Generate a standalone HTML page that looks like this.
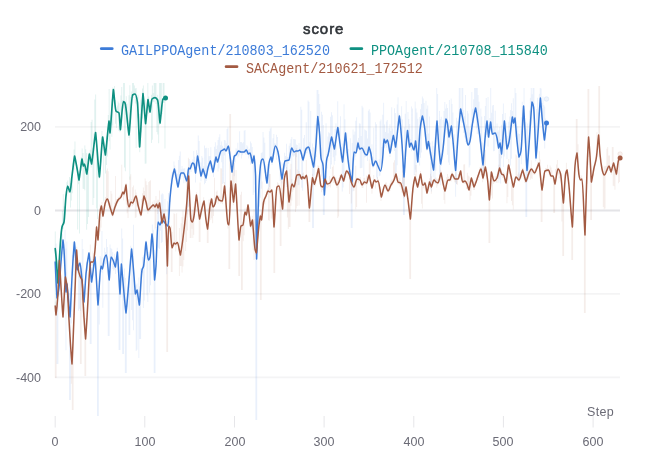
<!DOCTYPE html>
<html><head><meta charset="utf-8"><title>score</title>
<style>
html,body{margin:0;padding:0;background:#fff;}
body{width:646px;height:460px;position:relative;overflow:hidden;font-family:"Liberation Sans",sans-serif;}
.t{position:absolute;white-space:nowrap;line-height:1;will-change:transform;}
.title{font-weight:normal;font-size:15px;color:#2f3338;letter-spacing:0.93px;-webkit-text-stroke:0.6px #2f3338;}
.lg{font-family:"Liberation Mono",monospace;font-size:13.4px;transform-origin:0 0;transform:scaleY(1.136);}
.ax{font-size:12.5px;color:#6b6b76;}
.yl{text-align:right;width:40px;left:1.2px;}
.xl{text-align:center;width:60px;}
</style></head><body>
<svg width="646" height="460" viewBox="0 0 646 460" style="position:absolute;left:0;top:0">
<line x1="55" x2="620" y1="126.9" y2="126.9" stroke="#f4f4f5" stroke-width="1.8"/>
<line x1="55" x2="620" y1="210.5" y2="210.5" stroke="#e4e4e7" stroke-width="2"/>
<line x1="55" x2="620" y1="293.9" y2="293.9" stroke="#f4f4f5" stroke-width="1.8"/>
<line x1="55" x2="620" y1="377.4" y2="377.4" stroke="#f4f4f5" stroke-width="1.8"/>
<line x1="55.2" x2="55.2" y1="416" y2="427.5" stroke="#e6e6e9" stroke-width="1"/>
<line x1="144.8" x2="144.8" y1="416" y2="427.5" stroke="#e6e6e9" stroke-width="1"/>
<line x1="234.5" x2="234.5" y1="416" y2="427.5" stroke="#e6e6e9" stroke-width="1"/>
<line x1="324.1" x2="324.1" y1="416" y2="427.5" stroke="#e6e6e9" stroke-width="1"/>
<line x1="413.8" x2="413.8" y1="416" y2="427.5" stroke="#e6e6e9" stroke-width="1"/>
<line x1="503.4" x2="503.4" y1="416" y2="427.5" stroke="#e6e6e9" stroke-width="1"/>
<line x1="593.1" x2="593.1" y1="416" y2="427.5" stroke="#e6e6e9" stroke-width="1"/>
<path d="M54.8,259.6 L55.7,259.6 L55.6,243.4 L56.6,243.4 L56.5,261.4 L57.5,261.4 L57.4,292.2 L58.4,292.2 L58.3,285.8 L59.2,285.8 L59.2,271.7 L60.1,271.7 L60.1,263.5 L61.0,263.5 L61.0,251.2 L61.9,251.2 L61.9,233.6 L62.8,233.6 L62.8,241.8 L63.7,241.8 L63.7,253.2 L64.6,253.2 L64.6,229.7 L65.5,229.7 L65.5,248.6 L66.4,248.6 L66.4,241.4 L67.3,241.4 L67.3,290.7 L68.2,290.7 L68.2,292.7 L69.1,292.7 L69.1,293.5 L70.0,293.5 L70.0,288.1 L70.9,288.1 L70.9,284.0 L71.8,284.0 L71.8,255.1 L72.7,255.1 L72.7,241.9 L73.6,241.9 L73.6,240.7 L74.5,240.7 L74.5,247.4 L75.4,247.4 L75.4,251.9 L76.3,251.9 L76.3,266.9 L77.2,266.9 L77.2,263.6 L78.1,263.6 L78.1,262.9 L79.0,262.9 L79.0,259.9 L79.9,259.9 L79.9,261.4 L80.8,261.4 L80.8,272.7 L81.7,272.7 L81.7,239.0 L82.6,239.0 L82.6,248.9 L83.5,248.9 L83.5,293.9 L84.4,293.9 L84.4,286.3 L85.3,286.3 L85.3,271.9 L86.2,271.9 L86.2,262.0 L87.1,262.0 L87.1,260.4 L88.0,260.4 L88.0,252.2 L88.9,252.2 L88.9,256.4 L89.8,256.4 L89.8,261.2 L90.7,261.2 L90.7,267.3 L91.6,267.3 L91.6,272.9 L92.5,272.9 L92.5,259.2 L93.4,259.2 L93.4,257.1 L94.3,257.1 L94.3,256.9 L95.2,256.9 L95.2,265.8 L96.1,265.8 L96.1,276.0 L97.0,276.0 L97.0,288.0 L97.9,288.0 L97.9,294.8 L98.8,294.8 L98.8,284.3 L99.7,284.3 L99.7,256.0 L100.6,256.0 L100.6,257.7 L101.5,257.7 L101.5,230.9 L102.4,230.9 L102.4,262.8 L103.3,262.8 L103.3,257.4 L104.2,257.4 L104.2,247.8 L105.1,247.8 L105.1,251.9 L106.0,251.9 L106.0,239.1 L106.9,239.1 L106.9,247.1 L107.8,247.1 L107.8,270.2 L108.7,270.2 L108.7,277.4 L109.6,277.4 L109.6,244.6 L110.5,244.6 L110.5,248.1 L111.4,248.1 L111.4,249.1 L112.3,249.1 L112.3,252.2 L113.2,252.2 L113.2,261.2 L114.1,261.2 L114.1,253.7 L115.0,253.7 L115.0,258.9 L115.9,258.9 L115.9,256.0 L116.8,256.0 L116.8,247.7 L117.7,247.7 L117.7,263.8 L118.6,263.8 L118.6,274.9 L119.5,274.9 L119.5,292.1 L120.4,292.1 L120.4,266.7 L121.3,266.7 L121.3,228.4 L122.2,228.4 L122.2,238.5 L123.1,238.5 L123.1,277.0 L124.0,277.0 L124.0,268.6 L124.9,268.6 L124.9,277.9 L125.8,277.9 L125.8,307.8 L126.7,307.8 L126.7,293.3 L127.6,293.3 L127.6,287.0 L128.5,287.0 L128.5,275.9 L129.4,275.9 L129.4,264.5 L130.3,264.5 L130.3,245.7 L131.2,245.7 L131.2,247.3 L132.1,247.3 L132.1,257.2 L133.0,257.2 L133.0,224.8 L133.9,224.8 L133.9,279.7 L134.8,279.7 L134.8,286.5 L135.7,286.5 L135.7,284.8 L136.6,284.8 L136.6,283.5 L137.5,283.5 L137.5,290.0 L138.4,290.0 L138.4,277.6 L139.3,277.6 L139.3,296.0 L140.2,296.0 L140.2,268.3 L141.1,268.3 L141.1,272.0 L142.0,272.0 L142.0,257.1 L142.9,257.1 L142.9,254.8 L143.8,254.8 L143.8,256.3 L144.7,256.3 L144.7,243.3 L145.6,243.3 L145.6,240.2 L146.5,240.2 L146.5,248.5 L147.4,248.5 L147.4,252.0 L148.3,252.0 L148.3,251.8 L149.2,251.8 L149.2,255.9 L150.1,255.9 L150.1,239.5 L151.0,239.5 L151.0,233.4 L151.9,233.4 L151.9,224.6 L152.8,224.6 L152.8,229.8 L153.7,229.8 L153.7,250.1 L154.6,250.1 L154.6,272.6 L155.5,272.6 L155.5,264.5 L156.4,264.5 L156.4,244.7 L157.3,244.7 L157.3,208.7 L158.2,208.7 L158.2,205.3 L159.1,205.3 L159.1,222.1 L160.0,222.1 L160.0,213.7 L160.9,213.7 L160.9,194.5 L161.8,194.5 L161.8,193.3 L162.7,193.3 L162.7,194.2 L163.6,194.2 L163.6,216.0 L164.5,216.0 L164.5,199.1 L165.4,199.1 L165.4,218.7 L166.3,218.7 L166.3,216.6 L167.2,216.6 L167.2,201.2 L168.1,201.2 L168.1,193.1 L169.0,193.1 L169.0,200.3 L169.9,200.3 L169.9,193.5 L170.8,193.5 L170.8,174.8 L171.7,174.8 L171.7,172.3 L172.6,172.3 L172.6,171.1 L173.5,171.1 L173.5,161.5 L174.4,161.5 L174.4,165.5 L175.3,165.5 L175.3,173.6 L176.2,173.6 L176.2,170.2 L177.1,170.2 L177.1,173.8 L178.0,173.8 L178.0,160.0 L178.9,160.0 L178.9,155.8 L179.8,155.8 L179.8,151.6 L180.7,151.6 L180.7,169.3 L181.6,169.3 L181.6,166.1 L182.5,166.1 L182.5,168.8 L183.4,168.8 L183.4,168.4 L184.3,168.4 L184.3,168.3 L185.2,168.3 L185.2,176.4 L186.1,176.4 L186.1,176.9 L187.0,176.9 L187.0,172.8 L187.9,172.8 L187.9,167.2 L188.8,167.2 L188.8,159.1 L189.7,159.1 L189.7,161.3 L190.6,161.3 L190.6,164.8 L191.5,164.8 L191.5,161.7 L192.4,161.7 L192.4,159.3 L193.3,159.3 L193.3,151.0 L194.2,151.0 L194.2,156.7 L195.1,156.7 L195.1,161.7 L196.0,161.7 L196.0,150.3 L196.9,150.3 L196.9,153.2 L197.8,153.2 L197.8,135.6 L198.7,135.6 L198.7,140.9 L199.6,140.9 L199.6,169.3 L200.5,169.3 L200.5,162.5 L201.4,162.5 L201.4,155.9 L202.3,155.9 L202.3,157.8 L203.2,157.8 L203.2,166.3 L204.1,166.3 L204.1,145.6 L205.0,145.6 L205.0,148.3 L205.9,148.3 L205.9,147.8 L206.8,147.8 L206.8,165.6 L207.7,165.6 L207.7,148.0 L208.6,148.0 L208.6,156.2 L209.5,156.2 L209.5,156.1 L210.4,156.1 L210.4,147.2 L211.3,147.2 L211.3,163.5 L212.2,163.5 L212.2,164.4 L213.1,164.4 L213.1,159.7 L214.0,159.7 L214.0,146.8 L214.9,146.8 L214.9,142.3 L215.8,142.3 L215.8,148.9 L216.7,148.9 L216.7,145.6 L217.6,145.6 L217.6,140.1 L218.5,140.1 L218.5,137.2 L219.4,137.2 L219.4,134.2 L220.3,134.2 L220.3,145.2 L221.2,145.2 L221.2,141.5 L222.1,141.5 L222.1,145.7 L223.0,145.7 L223.0,147.8 L223.9,147.8 L223.9,140.1 L224.8,140.1 L224.8,140.4 L225.7,140.4 L225.7,143.3 L226.6,143.3 L226.6,129.1 L227.5,129.1 L227.5,127.3 L228.4,127.3 L228.4,147.7 L229.3,147.7 L229.3,153.4 L230.2,153.4 L230.2,157.1 L231.1,157.1 L231.1,167.7 L232.0,167.7 L232.0,167.5 L232.9,167.5 L232.9,156.3 L233.8,156.3 L233.8,154.8 L234.7,154.8 L234.7,152.8 L235.6,152.8 L235.6,148.2 L236.5,148.2 L236.5,149.4 L237.4,149.4 L237.4,142.8 L238.3,142.8 L238.3,149.7 L239.2,149.7 L239.2,131.3 L240.1,131.3 L240.1,141.9 L241.0,141.9 L241.0,142.0 L241.9,142.0 L241.9,143.3 L242.8,143.3 L242.8,142.2 L243.7,142.2 L243.7,130.8 L244.6,130.8 L244.6,130.0 L245.5,130.0 L245.5,149.1 L246.4,149.1 L246.4,145.2 L247.3,145.2 L247.3,146.5 L248.2,146.5 L248.2,149.5 L249.1,149.5 L249.1,148.7 L250.0,148.7 L250.0,141.4 L250.9,141.4 L250.9,143.3 L251.8,143.3 L251.8,147.1 L252.7,147.1 L252.7,155.5 L253.6,155.5 L253.6,154.0 L254.5,154.0 L254.5,159.3 L255.4,159.3 L255.4,193.0 L256.3,193.0 L256.3,247.4 L257.2,247.4 L257.2,218.4 L258.1,218.4 L258.1,188.7 L259.0,188.7 L259.0,179.5 L259.9,179.5 L259.9,161.9 L260.8,161.9 L260.8,152.9 L261.7,152.9 L261.7,152.2 L262.6,152.2 L262.6,132.0 L263.5,132.0 L263.5,137.4 L264.4,137.4 L264.4,142.8 L265.3,142.8 L265.3,173.7 L266.2,173.7 L266.2,174.9 L267.1,174.9 L267.1,164.1 L268.0,164.1 L268.0,167.0 L268.9,167.0 L268.9,131.2 L269.8,131.2 L269.8,128.5 L270.7,128.5 L270.7,127.4 L271.6,127.4 L271.6,159.7 L272.5,159.7 L272.5,138.2 L273.4,138.2 L273.4,133.9 L274.3,133.9 L274.3,143.3 L275.2,143.3 L275.2,143.7 L276.1,143.7 L276.1,134.8 L277.0,134.8 L277.0,136.9 L277.9,136.9 L277.9,150.7 L278.8,150.7 L278.8,155.9 L279.7,155.9 L279.7,161.6 L280.6,161.6 L280.6,162.2 L281.5,162.2 L281.5,168.7 L282.4,168.7 L282.4,163.4 L283.3,163.4 L283.3,164.3 L284.2,164.3 L284.2,152.8 L285.1,152.8 L285.1,156.1 L286.0,156.1 L286.0,143.7 L286.9,143.7 L286.9,156.7 L287.8,156.7 L287.8,157.1 L288.7,157.1 L288.7,145.7 L289.6,145.7 L289.6,143.3 L290.5,143.3 L290.5,139.2 L291.4,139.2 L291.4,136.9 L292.3,136.9 L292.3,147.3 L293.2,147.3 L293.2,139.0 L294.1,139.0 L294.1,139.2 L295.0,139.2 L295.0,139.5 L295.9,139.5 L295.9,144.5 L296.8,144.5 L296.8,144.9 L297.7,144.9 L297.7,149.8 L298.6,149.8 L298.6,143.1 L299.5,143.1 L299.5,147.5 L300.4,147.5 L300.4,106.7 L301.3,106.7 L301.3,109.7 L302.2,109.7 L302.2,152.7 L303.1,152.7 L303.1,138.2 L304.0,138.2 L304.0,134.9 L304.9,134.9 L304.9,146.7 L305.8,146.7 L305.8,122.3 L306.7,122.3 L306.7,147.1 L307.6,147.1 L307.6,100.6 L308.5,100.6 L308.5,101.7 L309.4,101.7 L309.4,142.2 L310.3,142.2 L310.3,111.1 L311.2,111.1 L311.2,156.3 L312.1,156.3 L312.1,143.5 L313.0,143.5 L313.0,147.3 L313.9,147.3 L313.9,154.6 L314.8,154.6 L314.8,124.4 L315.7,124.4 L315.7,138.3 L316.6,138.3 L316.6,90.0 L317.5,90.0 L317.5,90.0 L318.4,90.0 L318.4,93.9 L319.3,93.9 L319.3,104.1 L320.2,104.1 L320.2,148.3 L321.1,148.3 L321.1,111.7 L322.0,111.7 L322.0,114.8 L322.9,114.8 L322.9,125.1 L323.8,125.1 L323.8,188.4 L324.7,188.4 L324.7,169.6 L325.6,169.6 L325.6,123.3 L326.5,123.3 L326.5,154.3 L327.4,154.3 L327.4,136.5 L328.3,136.5 L328.3,132.2 L329.2,132.2 L329.2,133.3 L330.1,133.3 L330.1,116.8 L331.0,116.8 L331.0,112.3 L331.9,112.3 L331.9,115.2 L332.8,115.2 L332.8,136.8 L333.7,136.8 L333.7,141.7 L334.6,141.7 L334.6,128.9 L335.5,128.9 L335.5,123.2 L336.4,123.2 L336.4,132.1 L337.3,132.1 L337.3,101.3 L338.2,101.3 L338.2,127.8 L339.1,127.8 L339.1,128.0 L340.0,128.0 L340.0,116.3 L340.9,116.3 L340.9,146.8 L341.8,146.8 L341.8,143.5 L342.7,143.5 L342.7,152.8 L343.6,152.8 L343.6,104.3 L344.5,104.3 L344.5,119.2 L345.4,119.2 L345.4,134.0 L346.3,134.0 L346.3,132.5 L347.2,132.5 L347.2,141.6 L348.1,141.6 L348.1,148.9 L349.0,148.9 L349.0,160.0 L349.9,160.0 L349.9,138.3 L350.8,138.3 L350.8,175.4 L351.7,175.4 L351.7,143.0 L352.6,143.0 L352.6,129.5 L353.5,129.5 L353.5,134.8 L354.4,134.8 L354.4,131.5 L355.3,131.5 L355.3,120.7 L356.2,120.7 L356.2,117.3 L357.1,117.3 L357.1,140.8 L358.0,140.8 L358.0,138.1 L358.9,138.1 L358.9,123.3 L359.8,123.3 L359.8,123.8 L360.7,123.8 L360.7,136.0 L361.6,136.0 L361.6,105.8 L362.5,105.8 L362.5,107.6 L363.4,107.6 L363.4,145.7 L364.3,145.7 L364.3,129.5 L365.2,129.5 L365.2,130.3 L366.1,130.3 L366.1,130.7 L367.0,130.7 L367.0,138.5 L367.9,138.5 L367.9,110.7 L368.8,110.7 L368.8,109.3 L369.7,109.3 L369.7,112.5 L370.6,112.5 L370.6,151.4 L371.5,151.4 L371.5,144.2 L372.4,144.2 L372.4,157.0 L373.3,157.0 L373.3,127.7 L374.2,127.7 L374.2,159.4 L375.1,159.4 L375.1,122.3 L376.0,122.3 L376.0,124.2 L376.9,124.2 L376.9,160.2 L377.8,160.2 L377.8,165.2 L378.7,165.2 L378.7,159.2 L379.6,159.2 L379.6,121.3 L380.5,121.3 L380.5,119.5 L381.4,119.5 L381.4,147.1 L382.3,147.1 L382.3,114.7 L383.2,114.7 L383.2,102.8 L384.1,102.8 L384.1,124.4 L385.0,124.4 L385.0,131.9 L385.9,131.9 L385.9,121.5 L386.8,121.5 L386.8,120.0 L387.7,120.0 L387.7,133.2 L388.6,133.2 L388.6,127.9 L389.5,127.9 L389.5,124.2 L390.4,124.2 L390.4,131.0 L391.3,131.0 L391.3,107.3 L392.2,107.3 L392.2,128.6 L393.1,128.6 L393.1,133.7 L394.0,133.7 L394.0,108.2 L394.9,108.2 L394.9,112.9 L395.8,112.9 L395.8,139.8 L396.7,139.8 L396.7,104.5 L397.6,104.5 L397.6,97.2 L398.5,97.2 L398.5,113.4 L399.4,113.4 L399.4,115.3 L400.3,115.3 L400.3,118.7 L401.2,118.7 L401.2,106.2 L402.1,106.2 L402.1,119.4 L403.0,119.4 L403.0,165.8 L403.9,165.8 L403.9,127.3 L404.8,127.3 L404.8,113.8 L405.7,113.8 L405.7,101.1 L406.6,101.1 L406.6,131.7 L407.5,131.7 L407.5,112.1 L408.4,112.1 L408.4,119.1 L409.3,119.1 L409.3,124.1 L410.2,124.1 L410.2,139.1 L411.1,139.1 L411.1,106.4 L412.0,106.4 L412.0,108.5 L412.9,108.5 L412.9,144.9 L413.8,144.9 L413.8,139.9 L414.7,139.9 L414.7,101.6 L415.6,101.6 L415.6,108.6 L416.5,108.6 L416.5,112.6 L417.4,112.6 L417.4,118.8 L418.3,118.8 L418.3,139.9 L419.2,139.9 L419.2,117.1 L420.1,117.1 L420.1,109.3 L421.0,109.3 L421.0,104.0 L421.9,104.0 L421.9,96.6 L422.8,96.6 L422.8,98.5 L423.7,98.5 L423.7,103.0 L424.6,103.0 L424.6,127.9 L425.5,127.9 L425.5,100.8 L426.4,100.8 L426.4,108.8 L427.3,108.8 L427.3,105.4 L428.2,105.4 L428.2,133.6 L429.1,133.6 L429.1,116.5 L430.0,116.5 L430.0,142.7 L430.9,142.7 L430.9,151.4 L431.8,151.4 L431.8,141.3 L432.7,141.3 L432.7,146.1 L433.6,146.1 L433.6,158.5 L434.5,158.5 L434.5,137.6 L435.4,137.6 L435.4,124.5 L436.3,124.5 L436.3,88.0 L437.2,88.0 L437.2,94.1 L438.1,94.1 L438.1,133.9 L439.0,133.9 L439.0,110.9 L439.9,110.9 L439.9,119.3 L440.8,119.3 L440.8,116.8 L441.7,116.8 L441.7,149.7 L442.6,149.7 L442.6,119.9 L443.5,119.9 L443.5,110.9 L444.4,110.9 L444.4,101.9 L445.3,101.9 L445.3,108.6 L446.2,108.6 L446.2,104.3 L447.1,104.3 L447.1,108.1 L448.0,108.1 L448.0,130.0 L448.9,130.0 L448.9,99.9 L449.8,99.9 L449.8,129.3 L450.7,129.3 L450.7,98.5 L451.6,98.5 L451.6,104.1 L452.5,104.1 L452.5,112.5 L453.4,112.5 L453.4,150.1 L454.3,150.1 L454.3,134.2 L455.2,134.2 L455.2,149.9 L456.1,149.9 L456.1,117.8 L457.0,117.8 L457.0,121.3 L457.9,121.3 L457.9,131.4 L458.8,131.4 L458.8,88.0 L459.7,88.0 L459.7,88.0 L460.6,88.0 L460.6,107.8 L461.5,107.8 L461.5,88.0 L462.4,88.0 L462.4,88.0 L463.3,88.0 L463.3,110.3 L464.2,110.3 L464.2,116.2 L465.1,116.2 L465.1,95.1 L466.0,95.1 L466.0,124.4 L466.9,124.4 L466.9,111.1 L467.8,111.1 L467.8,113.5 L468.7,113.5 L468.7,127.6 L469.6,127.6 L469.6,132.8 L470.5,132.8 L470.5,124.5 L471.4,124.5 L471.4,92.0 L472.3,92.0 L472.3,108.8 L473.2,108.8 L473.2,99.3 L474.1,99.3 L474.1,88.0 L475.0,88.0 L475.0,88.0 L475.9,88.0 L475.9,88.0 L476.8,88.0 L476.8,88.0 L477.7,88.0 L477.7,94.9 L478.6,94.9 L478.6,101.7 L479.5,101.7 L479.5,135.4 L480.4,135.4 L480.4,108.4 L481.3,108.4 L481.3,116.5 L482.2,116.5 L482.2,142.5 L483.1,142.5 L483.1,156.3 L484.0,156.3 L484.0,116.1 L484.9,116.1 L484.9,106.0 L485.8,106.0 L485.8,97.9 L486.7,97.9 L486.7,121.7 L487.6,121.7 L487.6,97.0 L488.5,97.0 L488.5,125.6 L489.4,125.6 L489.4,118.1 L490.3,118.1 L490.3,88.0 L491.2,88.0 L491.2,112.7 L492.1,112.7 L492.1,105.4 L493.0,105.4 L493.0,105.1 L493.9,105.1 L493.9,127.5 L494.8,127.5 L494.8,110.7 L495.7,110.7 L495.7,132.1 L496.6,132.1 L496.6,123.6 L497.5,123.6 L497.5,131.7 L498.4,131.7 L498.4,130.3 L499.3,130.3 L499.3,127.1 L500.2,127.1 L500.2,139.1 L501.1,139.1 L501.1,124.7 L502.0,124.7 L502.0,114.1 L502.9,114.1 L502.9,103.5 L503.8,103.5 L503.8,120.0 L504.7,120.0 L504.7,113.0 L505.6,113.0 L505.6,122.7 L506.5,122.7 L506.5,141.4 L507.4,141.4 L507.4,136.0 L508.3,136.0 L508.3,121.7 L509.2,121.7 L509.2,116.5 L510.1,116.5 L510.1,109.9 L511.0,109.9 L511.0,103.3 L511.9,103.3 L511.9,111.0 L512.8,111.0 L512.8,98.2 L513.7,98.2 L513.7,116.5 L514.6,116.5 L514.6,88.0 L515.5,88.0 L515.5,93.0 L516.4,93.0 L516.4,130.8 L517.3,130.8 L517.3,126.2 L518.2,126.2 L518.2,133.4 L519.1,133.4 L519.1,134.0 L520.0,134.0 L520.0,147.8 L520.9,147.8 L520.9,117.3 L521.8,117.3 L521.8,101.7 L522.7,101.7 L522.7,110.1 L523.6,110.1 L523.6,88.0 L524.5,88.0 L524.5,128.0 L525.4,128.0 L525.4,121.9 L526.3,121.9 L526.3,128.4 L527.2,128.4 L527.2,123.4 L528.1,123.4 L528.1,145.3 L529.0,145.3 L529.0,110.6 L529.9,110.6 L529.9,97.7 L530.8,97.7 L530.8,88.0 L531.7,88.0 L531.7,94.2 L532.6,94.2 L532.6,88.0 L533.5,88.0 L533.5,88.0 L534.4,88.0 L534.4,122.9 L535.3,122.9 L535.3,152.6 L536.2,152.6 L536.2,109.1 L537.1,109.1 L537.1,97.8 L538.0,97.8 L538.0,112.4 L538.9,112.4 L538.9,93.8 L539.8,93.8 L539.8,88.0 L540.7,88.0 L540.7,88.4 L541.6,88.4 L541.6,103.0 L542.5,103.0 L542.5,96.5 L543.4,96.5 L543.4,105.1 L544.3,105.1 L544.3,106.4 L545.2,106.4 L545.2,118.5 L546.1,118.5 L546.1,141.0 L545.2,141.0 L545.2,148.6 L544.3,148.6 L544.3,136.5 L543.4,136.5 L543.4,128.4 L542.5,128.4 L542.5,119.1 L541.6,119.1 L541.6,117.4 L540.7,117.4 L540.7,100.4 L539.8,100.4 L539.8,114.7 L538.9,114.7 L538.9,128.7 L538.0,128.7 L538.0,140.8 L537.1,140.8 L537.1,159.2 L536.2,159.2 L536.2,161.3 L535.3,161.3 L535.3,139.5 L534.4,139.5 L534.4,118.7 L533.5,118.7 L533.5,108.8 L532.6,108.8 L532.6,104.0 L531.7,104.0 L531.7,125.9 L530.8,125.9 L530.8,131.3 L529.9,131.3 L529.9,142.7 L529.0,142.7 L529.0,170.0 L528.1,170.0 L528.1,181.5 L527.2,181.5 L527.2,217.0 L526.3,217.0 L526.3,217.0 L525.4,217.0 L525.4,143.3 L524.5,143.3 L524.5,127.2 L523.6,127.2 L523.6,125.2 L522.7,125.2 L522.7,135.3 L521.8,135.3 L521.8,164.2 L520.9,164.2 L520.9,155.8 L520.0,155.8 L520.0,181.2 L519.1,181.2 L519.1,180.6 L518.2,180.6 L518.2,152.4 L517.3,152.4 L517.3,142.5 L516.4,142.5 L516.4,137.1 L515.5,137.1 L515.5,123.0 L514.6,123.0 L514.6,126.0 L513.7,126.0 L513.7,126.3 L512.8,126.3 L512.8,118.1 L511.9,118.1 L511.9,158.8 L511.0,158.8 L511.0,165.4 L510.1,165.4 L510.1,140.2 L509.2,140.2 L509.2,147.5 L508.3,147.5 L508.3,148.2 L507.4,148.2 L507.4,159.0 L506.5,159.0 L506.5,143.9 L505.6,143.9 L505.6,131.8 L504.7,131.8 L504.7,156.4 L503.8,156.4 L503.8,167.0 L502.9,167.0 L502.9,145.1 L502.0,145.1 L502.0,158.3 L501.1,158.3 L501.1,183.6 L500.2,183.6 L500.2,179.5 L499.3,179.5 L499.3,182.7 L498.4,182.7 L498.4,145.9 L497.5,145.9 L497.5,141.4 L496.6,141.4 L496.6,144.3 L495.7,144.3 L495.7,134.8 L494.8,134.8 L494.8,150.9 L493.9,150.9 L493.9,151.3 L493.0,151.3 L493.0,134.9 L492.1,134.9 L492.1,135.1 L491.2,135.1 L491.2,126.7 L490.3,126.7 L490.3,130.1 L489.4,130.1 L489.4,138.2 L488.5,138.2 L488.5,146.6 L487.6,146.6 L487.6,137.6 L486.7,137.6 L486.7,135.0 L485.8,135.0 L485.8,137.4 L484.9,137.4 L484.9,149.0 L484.0,149.0 L484.0,171.3 L483.1,171.3 L483.1,176.4 L482.2,176.4 L482.2,168.3 L481.3,168.3 L481.3,149.3 L480.4,149.3 L480.4,142.3 L479.5,142.3 L479.5,133.9 L478.6,133.9 L478.6,127.3 L477.7,127.3 L477.7,134.1 L476.8,134.1 L476.8,128.4 L475.9,128.4 L475.9,110.0 L475.0,110.0 L475.0,114.1 L474.1,114.1 L474.1,122.7 L473.2,122.7 L473.2,127.0 L472.3,127.0 L472.3,136.3 L471.4,136.3 L471.4,135.0 L470.5,135.0 L470.5,165.3 L469.6,165.3 L469.6,167.6 L468.7,167.6 L468.7,145.3 L467.8,145.3 L467.8,144.3 L466.9,144.3 L466.9,143.5 L466.0,143.5 L466.0,142.0 L465.1,142.0 L465.1,137.5 L464.2,137.5 L464.2,133.0 L463.3,133.0 L463.3,120.8 L462.4,120.8 L462.4,122.4 L461.5,122.4 L461.5,115.2 L460.6,115.2 L460.6,116.2 L459.7,116.2 L459.7,127.5 L458.8,127.5 L458.8,137.9 L457.9,137.9 L457.9,146.8 L457.0,146.8 L457.0,184.1 L456.1,184.1 L456.1,196.7 L455.2,196.7 L455.2,166.3 L454.3,166.3 L454.3,159.4 L453.4,159.4 L453.4,144.0 L452.5,144.0 L452.5,137.1 L451.6,137.1 L451.6,133.1 L450.7,133.1 L450.7,139.1 L449.8,139.1 L449.8,165.1 L448.9,165.1 L448.9,162.6 L448.0,162.6 L448.0,154.7 L447.1,154.7 L447.1,129.9 L446.2,129.9 L446.2,126.9 L445.3,126.9 L445.3,131.2 L444.4,131.2 L444.4,144.4 L443.5,144.4 L443.5,156.6 L442.6,156.6 L442.6,155.1 L441.7,155.1 L441.7,166.0 L440.8,166.0 L440.8,185.2 L439.9,185.2 L439.9,176.8 L439.0,176.8 L439.0,144.6 L438.1,144.6 L438.1,134.5 L437.2,134.5 L437.2,126.2 L436.3,126.2 L436.3,170.4 L435.4,170.4 L435.4,183.4 L434.5,183.4 L434.5,167.9 L433.6,167.9 L433.6,177.4 L432.7,177.4 L432.7,167.9 L431.8,167.9 L431.8,191.5 L430.9,191.5 L430.9,186.6 L430.0,186.6 L430.0,155.4 L429.1,155.4 L429.1,149.0 L428.2,149.0 L428.2,148.2 L427.3,148.2 L427.3,150.9 L426.4,150.9 L426.4,143.0 L425.5,143.0 L425.5,136.4 L424.6,136.4 L424.6,128.6 L423.7,128.6 L423.7,123.6 L422.8,123.6 L422.8,118.3 L421.9,118.3 L421.9,152.4 L421.0,152.4 L421.0,157.7 L420.1,157.7 L420.1,165.5 L419.2,165.5 L419.2,150.3 L418.3,150.3 L418.3,163.1 L417.4,163.1 L417.4,155.6 L416.5,155.6 L416.5,172.3 L415.6,172.3 L415.6,169.8 L414.7,169.8 L414.7,174.9 L413.8,174.9 L413.8,150.1 L412.9,150.1 L412.9,150.2 L412.0,150.2 L412.0,151.3 L411.1,151.3 L411.1,144.7 L410.2,144.7 L410.2,148.1 L409.3,148.1 L409.3,144.5 L408.4,144.5 L408.4,137.5 L407.5,137.5 L407.5,141.6 L406.6,141.6 L406.6,145.7 L405.7,145.7 L405.7,168.3 L404.8,168.3 L404.8,215.0 L403.9,215.0 L403.9,215.0 L403.0,215.0 L403.0,183.7 L402.1,183.7 L402.1,144.3 L401.2,144.3 L401.2,133.1 L400.3,133.1 L400.3,124.3 L399.4,124.3 L399.4,123.3 L398.5,123.3 L398.5,130.1 L397.6,130.1 L397.6,165.2 L396.7,165.2 L396.7,172.5 L395.8,172.5 L395.8,177.2 L394.9,177.2 L394.9,150.9 L394.0,150.9 L394.0,138.3 L393.1,138.3 L393.1,141.9 L392.2,141.9 L392.2,148.1 L391.3,148.1 L391.3,151.6 L390.4,151.6 L390.4,156.9 L389.5,156.9 L389.5,151.9 L388.6,151.9 L388.6,147.8 L387.7,147.8 L387.7,141.6 L386.8,141.6 L386.8,147.8 L385.9,147.8 L385.9,145.7 L385.0,145.7 L385.0,147.8 L384.1,147.8 L384.1,147.0 L383.2,147.0 L383.2,163.1 L382.3,163.1 L382.3,164.2 L381.4,164.2 L381.4,170.0 L380.5,170.0 L380.5,175.5 L379.6,175.5 L379.6,176.2 L378.7,176.2 L378.7,168.1 L377.8,168.1 L377.8,179.4 L376.9,179.4 L376.9,177.5 L376.0,177.5 L376.0,161.8 L375.1,161.8 L375.1,165.9 L374.2,165.9 L374.2,167.5 L373.3,167.5 L373.3,168.2 L372.4,168.2 L372.4,164.4 L371.5,164.4 L371.5,155.6 L370.6,155.6 L370.6,159.8 L369.7,159.8 L369.7,152.9 L368.8,152.9 L368.8,152.1 L367.9,152.1 L367.9,161.1 L367.0,161.1 L367.0,156.2 L366.1,156.2 L366.1,156.9 L365.2,156.9 L365.2,157.5 L364.3,157.5 L364.3,176.6 L363.4,176.6 L363.4,152.3 L362.5,152.3 L362.5,167.8 L361.6,167.8 L361.6,167.9 L360.7,167.9 L360.7,168.3 L359.8,168.3 L359.8,151.2 L358.9,151.2 L358.9,147.0 L358.0,147.0 L358.0,146.2 L357.1,146.2 L357.1,151.5 L356.2,151.5 L356.2,156.5 L355.3,156.5 L355.3,159.9 L354.4,159.9 L354.4,161.5 L353.5,161.5 L353.5,191.2 L352.6,191.2 L352.6,228.0 L351.7,228.0 L351.7,228.0 L350.8,228.0 L350.8,175.7 L349.9,175.7 L349.9,179.4 L349.0,179.4 L349.0,167.5 L348.1,167.5 L348.1,158.6 L347.2,158.6 L347.2,152.9 L346.3,152.9 L346.3,145.0 L345.4,145.0 L345.4,145.7 L344.5,145.7 L344.5,178.6 L343.6,178.6 L343.6,187.6 L342.7,187.6 L342.7,191.5 L341.8,191.5 L341.8,155.1 L340.9,155.1 L340.9,158.4 L340.0,158.4 L340.0,142.8 L339.1,142.8 L339.1,137.6 L338.2,137.6 L338.2,128.4 L337.3,128.4 L337.3,136.7 L336.4,136.7 L336.4,155.4 L335.5,155.4 L335.5,161.1 L334.6,161.1 L334.6,164.7 L333.7,164.7 L333.7,157.3 L332.8,157.3 L332.8,144.7 L331.9,144.7 L331.9,164.5 L331.0,164.5 L331.0,169.0 L330.1,169.0 L330.1,152.1 L329.2,152.1 L329.2,152.9 L328.3,152.9 L328.3,160.5 L327.4,160.5 L327.4,168.4 L326.5,168.4 L326.5,177.8 L325.6,177.8 L325.6,186.8 L324.7,186.8 L324.7,215.0 L323.8,215.0 L323.8,215.0 L322.9,215.0 L322.9,166.1 L322.0,166.1 L322.0,176.4 L321.1,176.4 L321.1,155.8 L320.2,155.8 L320.2,144.2 L319.3,144.2 L319.3,128.4 L318.4,128.4 L318.4,120.3 L317.5,120.3 L317.5,131.2 L316.6,131.2 L316.6,157.0 L315.7,157.0 L315.7,166.8 L314.8,166.8 L314.8,175.4 L313.9,175.4 L313.9,228.0 L313.0,228.0 L313.0,228.0 L312.1,228.0 L312.1,165.2 L311.2,165.2 L311.2,159.2 L310.3,159.2 L310.3,156.8 L309.4,156.8 L309.4,151.0 L308.5,151.0 L308.5,149.8 L307.6,149.8 L307.6,153.2 L306.7,153.2 L306.7,153.3 L305.8,153.3 L305.8,155.8 L304.9,155.8 L304.9,155.4 L304.0,155.4 L304.0,161.8 L303.1,161.8 L303.1,190.8 L302.2,190.8 L302.2,187.8 L301.3,187.8 L301.3,154.1 L300.4,154.1 L300.4,152.3 L299.5,152.3 L299.5,184.7 L298.6,184.7 L298.6,185.2 L297.7,185.2 L297.7,152.8 L296.8,152.8 L296.8,157.2 L295.9,157.2 L295.9,187.3 L295.0,187.3 L295.0,155.5 L294.1,155.5 L294.1,156.8 L293.2,156.8 L293.2,155.4 L292.3,155.4 L292.3,186.7 L291.4,186.7 L291.4,153.1 L290.5,153.1 L290.5,160.9 L289.6,160.9 L289.6,160.5 L288.7,160.5 L288.7,163.7 L287.8,163.7 L287.8,186.8 L286.9,186.8 L286.9,187.0 L286.0,187.0 L286.0,166.6 L285.1,166.6 L285.1,168.6 L284.2,168.6 L284.2,169.1 L283.3,169.1 L283.3,176.0 L282.4,176.0 L282.4,183.5 L281.5,183.5 L281.5,175.9 L280.6,175.9 L280.6,181.0 L279.7,181.0 L279.7,162.0 L278.8,162.0 L278.8,156.5 L277.9,156.5 L277.9,151.9 L277.0,151.9 L277.0,159.8 L276.1,159.8 L276.1,149.3 L275.2,149.3 L275.2,152.5 L274.3,152.5 L274.3,156.5 L273.4,156.5 L273.4,158.9 L272.5,158.9 L272.5,165.0 L271.6,165.0 L271.6,159.9 L270.7,159.9 L270.7,160.7 L269.8,160.7 L269.8,187.0 L268.9,187.0 L268.9,193.2 L268.0,193.2 L268.0,178.5 L267.1,178.5 L267.1,182.6 L266.2,182.6 L266.2,178.4 L265.3,178.4 L265.3,173.1 L264.4,173.1 L264.4,169.4 L263.5,169.4 L263.5,163.4 L262.6,163.4 L262.6,162.8 L261.7,162.8 L261.7,188.8 L260.8,188.8 L260.8,197.8 L259.9,197.8 L259.9,206.8 L259.0,206.8 L259.0,199.0 L258.1,199.0 L258.1,227.2 L257.2,227.2 L257.2,420.0 L256.3,420.0 L256.3,420.0 L255.4,420.0 L255.4,172.2 L254.5,172.2 L254.5,192.6 L253.6,192.6 L253.6,194.9 L252.7,194.9 L252.7,164.1 L251.8,164.1 L251.8,161.9 L250.9,161.9 L250.9,164.6 L250.0,164.6 L250.0,156.2 L249.1,156.2 L249.1,158.4 L248.2,158.4 L248.2,155.0 L247.3,155.0 L247.3,153.2 L246.4,153.2 L246.4,154.9 L245.5,154.9 L245.5,153.8 L244.6,153.8 L244.6,153.1 L243.7,153.1 L243.7,153.6 L242.8,153.6 L242.8,155.2 L241.9,155.2 L241.9,158.4 L241.0,158.4 L241.0,152.8 L240.1,152.8 L240.1,154.4 L239.2,154.4 L239.2,156.2 L238.3,156.2 L238.3,157.6 L237.4,157.6 L237.4,154.6 L236.5,154.6 L236.5,156.0 L235.6,156.0 L235.6,162.5 L234.7,162.5 L234.7,176.3 L233.8,176.3 L233.8,164.2 L232.9,164.2 L232.9,169.6 L232.0,169.6 L232.0,171.6 L231.1,171.6 L231.1,164.7 L230.2,164.7 L230.2,159.0 L229.3,159.0 L229.3,154.1 L228.4,154.1 L228.4,150.6 L227.5,150.6 L227.5,149.8 L226.6,149.8 L226.6,151.9 L225.7,151.9 L225.7,190.0 L224.8,190.0 L224.8,155.5 L223.9,155.5 L223.9,183.3 L223.0,183.3 L223.0,183.9 L222.1,183.9 L222.1,162.2 L221.2,162.2 L221.2,154.0 L220.3,154.0 L220.3,156.5 L219.4,156.5 L219.4,168.6 L218.5,168.6 L218.5,171.5 L217.6,171.5 L217.6,163.1 L216.7,163.1 L216.7,163.0 L215.8,163.0 L215.8,161.7 L214.9,161.7 L214.9,165.7 L214.0,165.7 L214.0,177.1 L213.1,177.1 L213.1,173.5 L212.2,173.5 L212.2,169.4 L211.3,169.4 L211.3,168.9 L210.4,168.9 L210.4,163.6 L209.5,163.6 L209.5,169.7 L208.6,169.7 L208.6,168.2 L207.7,168.2 L207.7,174.6 L206.8,174.6 L206.8,181.1 L205.9,181.1 L205.9,182.9 L205.0,182.9 L205.0,184.3 L204.1,184.3 L204.1,175.2 L203.2,175.2 L203.2,171.5 L202.3,171.5 L202.3,177.4 L201.4,177.4 L201.4,181.3 L200.5,181.3 L200.5,171.9 L199.6,171.9 L199.6,168.6 L198.7,168.6 L198.7,165.9 L197.8,165.9 L197.8,160.8 L196.9,160.8 L196.9,168.9 L196.0,168.9 L196.0,182.4 L195.1,182.4 L195.1,169.6 L194.2,169.6 L194.2,166.0 L193.3,166.0 L193.3,165.2 L192.4,165.2 L192.4,167.9 L191.5,167.9 L191.5,171.9 L190.6,171.9 L190.6,170.3 L189.7,170.3 L189.7,205.9 L188.8,205.9 L188.8,207.0 L187.9,207.0 L187.9,214.3 L187.0,214.3 L187.0,181.4 L186.1,181.4 L186.1,182.5 L185.2,182.5 L185.2,177.7 L184.3,177.7 L184.3,183.2 L183.4,183.2 L183.4,174.7 L182.5,174.7 L182.5,176.7 L181.6,176.7 L181.6,174.9 L180.7,174.9 L180.7,179.2 L179.8,179.2 L179.8,181.4 L178.9,181.4 L178.9,187.1 L178.0,187.1 L178.0,186.5 L177.1,186.5 L177.1,181.5 L176.2,181.5 L176.2,176.9 L175.3,176.9 L175.3,172.4 L174.4,172.4 L174.4,174.8 L173.5,174.8 L173.5,176.9 L172.6,176.9 L172.6,180.7 L171.7,180.7 L171.7,188.8 L170.8,188.8 L170.8,201.9 L169.9,201.9 L169.9,207.0 L169.0,207.0 L169.0,221.8 L168.1,221.8 L168.1,227.1 L167.2,227.1 L167.2,274.2 L166.3,274.2 L166.3,226.5 L165.4,226.5 L165.4,229.2 L164.5,229.2 L164.5,225.5 L163.6,225.5 L163.6,222.7 L162.7,222.7 L162.7,241.9 L161.8,241.9 L161.8,243.1 L160.9,243.1 L160.9,230.5 L160.0,230.5 L160.0,249.1 L159.1,249.1 L159.1,247.8 L158.2,247.8 L158.2,231.3 L157.3,231.3 L157.3,250.7 L156.4,250.7 L156.4,267.5 L155.5,267.5 L155.5,373.0 L154.6,373.0 L154.6,373.0 L153.7,373.0 L153.7,254.9 L152.8,254.9 L152.8,247.2 L151.9,247.2 L151.9,246.2 L151.0,246.2 L151.0,285.2 L150.1,285.2 L150.1,292.7 L149.2,292.7 L149.2,261.5 L148.3,261.5 L148.3,302.1 L147.4,302.1 L147.4,295.3 L146.5,295.3 L146.5,246.4 L145.6,246.4 L145.6,251.3 L144.7,251.3 L144.7,300.5 L143.8,300.5 L143.8,308.0 L142.9,308.0 L142.9,272.9 L142.0,272.9 L142.0,283.7 L141.1,283.7 L141.1,339.0 L140.2,339.0 L140.2,339.0 L139.3,339.0 L139.3,358.1 L138.4,358.1 L138.4,297.5 L137.5,297.5 L137.5,349.7 L136.6,349.7 L136.6,351.1 L135.7,351.1 L135.7,296.8 L134.8,296.8 L134.8,287.1 L133.9,287.1 L133.9,330.3 L133.0,330.3 L133.0,320.2 L132.1,320.2 L132.1,310.1 L131.2,310.1 L131.2,263.6 L130.3,263.6 L130.3,335.0 L129.4,335.0 L129.4,335.0 L128.5,335.0 L128.5,292.4 L127.6,292.4 L127.6,306.9 L126.7,306.9 L126.7,373.0 L125.8,373.0 L125.8,373.0 L124.9,373.0 L124.9,298.7 L124.0,298.7 L124.0,354.0 L123.1,354.0 L123.1,354.0 L122.2,354.0 L122.2,275.1 L121.3,275.1 L121.3,297.5 L120.4,297.5 L120.4,350.0 L119.5,350.0 L119.5,350.0 L118.6,350.0 L118.6,270.1 L117.7,270.1 L117.7,264.1 L116.8,264.1 L116.8,263.9 L115.9,263.9 L115.9,274.1 L115.0,274.1 L115.0,269.6 L114.1,269.6 L114.1,270.6 L113.2,270.6 L113.2,269.1 L112.3,269.1 L112.3,261.5 L111.4,261.5 L111.4,259.9 L110.5,259.9 L110.5,277.9 L109.6,277.9 L109.6,336.0 L108.7,336.0 L108.7,336.0 L107.8,336.0 L107.8,267.8 L106.9,267.8 L106.9,259.9 L106.0,259.9 L106.0,264.4 L105.1,264.4 L105.1,266.6 L104.2,266.6 L104.2,262.4 L103.3,262.4 L103.3,307.7 L102.4,307.7 L102.4,272.7 L101.5,272.7 L101.5,272.0 L100.6,272.0 L100.6,281.4 L99.7,281.4 L99.7,324.4 L98.8,324.4 L98.8,416.0 L97.9,416.0 L97.9,416.0 L97.0,416.0 L97.0,286.9 L96.1,286.9 L96.1,275.9 L95.2,275.9 L95.2,261.2 L94.3,261.2 L94.3,267.5 L93.4,267.5 L93.4,272.7 L92.5,272.7 L92.5,281.5 L91.6,281.5 L91.6,344.0 L90.7,344.0 L90.7,344.0 L89.8,344.0 L89.8,265.6 L88.9,265.6 L88.9,257.7 L88.0,257.7 L88.0,271.3 L87.1,271.3 L87.1,270.3 L86.2,270.3 L86.2,278.3 L85.3,278.3 L85.3,293.4 L84.4,293.4 L84.4,309.9 L83.5,309.9 L83.5,295.4 L82.6,295.4 L82.6,284.3 L81.7,284.3 L81.7,277.4 L80.8,277.4 L80.8,310.9 L79.9,310.9 L79.9,308.7 L79.0,308.7 L79.0,310.8 L78.1,310.8 L78.1,272.4 L77.2,272.4 L77.2,273.5 L76.3,273.5 L76.3,274.4 L75.4,274.4 L75.4,249.9 L74.5,249.9 L74.5,275.6 L73.6,275.6 L73.6,261.3 L72.7,261.3 L72.7,275.8 L71.8,275.8 L71.8,323.5 L70.9,323.5 L70.9,400.0 L70.0,400.0 L70.0,400.0 L69.1,400.0 L69.1,305.3 L68.2,305.3 L68.2,297.7 L67.3,297.7 L67.3,289.1 L66.4,289.1 L66.4,350.2 L65.5,350.2 L65.5,274.3 L64.6,274.3 L64.6,260.3 L63.7,260.3 L63.7,254.1 L62.8,254.1 L62.8,249.7 L61.9,249.7 L61.9,260.7 L61.0,260.7 L61.0,268.3 L60.1,268.3 L60.1,281.6 L59.2,281.6 L59.2,295.8 L58.3,295.8 L58.4,364.0 L57.4,364.0 L57.5,364.0 L56.5,364.0 L56.6,287.2 L55.6,287.2 L55.7,264.4 L54.8,264.4Z" fill="#3C7BD8" fill-opacity="0.115"/>
<path d="M54.8,301.5 L55.7,301.5 L55.6,312.1 L56.6,312.1 L56.5,303.0 L57.5,303.0 L57.4,292.7 L58.4,292.7 L58.3,271.7 L59.2,271.7 L59.2,251.5 L60.1,251.5 L60.1,273.7 L61.0,273.7 L61.0,292.9 L61.9,292.9 L61.9,303.9 L62.8,303.9 L62.8,307.6 L63.7,307.6 L63.7,290.0 L64.6,290.0 L64.6,278.6 L65.5,278.6 L65.5,272.2 L66.4,272.2 L66.4,284.4 L67.3,284.4 L67.3,292.1 L68.2,292.1 L68.2,309.2 L69.1,309.2 L69.1,326.6 L70.0,326.6 L70.0,337.1 L70.9,337.1 L70.9,352.6 L71.8,352.6 L71.8,354.6 L72.7,354.6 L72.7,328.4 L73.6,328.4 L73.6,309.2 L74.5,309.2 L74.5,286.4 L75.4,286.4 L75.4,264.3 L76.3,264.3 L76.3,246.8 L77.2,246.8 L77.2,259.9 L78.1,259.9 L78.1,263.5 L79.0,263.5 L79.0,272.5 L79.9,272.5 L79.9,267.7 L80.8,267.7 L80.8,276.0 L81.7,276.0 L81.7,281.4 L82.6,281.4 L82.6,293.4 L83.5,293.4 L83.5,307.0 L84.4,307.0 L84.4,324.7 L85.3,324.7 L85.3,317.9 L86.2,317.9 L86.2,318.4 L87.1,318.4 L87.1,303.0 L88.0,303.0 L88.0,283.9 L88.9,283.9 L88.9,254.6 L89.8,254.6 L89.8,244.5 L90.7,244.5 L90.7,259.7 L91.6,259.7 L91.6,260.7 L92.5,260.7 L92.5,251.5 L93.4,251.5 L93.4,252.9 L94.3,252.9 L94.3,247.8 L95.2,247.8 L95.2,238.6 L96.1,238.6 L96.1,225.5 L97.0,225.5 L97.0,233.6 L97.9,233.6 L97.9,225.4 L98.8,225.4 L98.8,218.8 L99.7,218.8 L99.7,204.6 L100.6,204.6 L100.6,205.8 L101.5,205.8 L101.5,202.0 L102.4,202.0 L102.4,208.1 L103.3,208.1 L103.3,209.9 L104.2,209.9 L104.2,202.1 L105.1,202.1 L105.1,197.0 L106.0,197.0 L106.0,170.4 L106.9,170.4 L106.9,168.5 L107.8,168.5 L107.8,171.2 L108.7,171.2 L108.7,203.1 L109.6,203.1 L109.6,202.7 L110.5,202.7 L110.5,191.0 L111.4,191.0 L111.4,193.8 L112.3,193.8 L112.3,209.8 L113.2,209.8 L113.2,206.8 L114.1,206.8 L114.1,202.5 L115.0,202.5 L115.0,176.0 L115.9,176.0 L115.9,199.1 L116.8,199.1 L116.8,200.3 L117.7,200.3 L117.7,197.0 L118.6,197.0 L118.6,196.6 L119.5,196.6 L119.5,195.5 L120.4,195.5 L120.4,193.7 L121.3,193.7 L121.3,164.8 L122.2,164.8 L122.2,191.1 L123.1,191.1 L123.1,190.5 L124.0,190.5 L124.0,190.5 L124.9,190.5 L124.9,183.4 L125.8,183.4 L125.8,183.1 L126.7,183.1 L126.7,193.2 L127.6,193.2 L127.6,200.1 L128.5,200.1 L128.5,199.0 L129.4,199.0 L129.4,176.5 L130.3,176.5 L130.3,174.2 L131.2,174.2 L131.2,198.9 L132.1,198.9 L132.1,187.3 L133.0,187.3 L133.0,185.4 L133.9,185.4 L133.9,197.6 L134.8,197.6 L134.8,189.5 L135.7,189.5 L135.7,192.5 L136.6,192.5 L136.6,195.4 L137.5,195.4 L137.5,201.4 L138.4,201.4 L138.4,199.5 L139.3,199.5 L139.3,209.3 L140.2,209.3 L140.2,211.9 L141.1,211.9 L141.1,199.0 L142.0,199.0 L142.0,193.3 L142.9,193.3 L142.9,187.6 L143.8,187.6 L143.8,191.1 L144.7,191.1 L144.7,178.5 L145.6,178.5 L145.6,181.3 L146.5,181.3 L146.5,184.9 L147.4,184.9 L147.4,202.5 L148.3,202.5 L148.3,182.0 L149.2,182.0 L149.2,181.1 L150.1,181.1 L150.1,180.2 L151.0,180.2 L151.0,205.2 L151.9,205.2 L151.9,201.8 L152.8,201.8 L152.8,203.9 L153.7,203.9 L153.7,200.3 L154.6,200.3 L154.6,203.8 L155.5,203.8 L155.5,196.0 L156.4,196.0 L156.4,201.6 L157.3,201.6 L157.3,199.8 L158.2,199.8 L158.2,199.8 L159.1,199.8 L159.1,190.4 L160.0,190.4 L160.0,207.9 L160.9,207.9 L160.9,211.6 L161.8,211.6 L161.8,215.7 L162.7,215.7 L162.7,214.7 L163.6,214.7 L163.6,210.9 L164.5,210.9 L164.5,216.2 L165.4,216.2 L165.4,223.9 L166.3,223.9 L166.3,243.8 L167.2,243.8 L167.2,252.9 L168.1,252.9 L168.1,216.5 L169.0,216.5 L169.0,220.9 L169.9,220.9 L169.9,231.0 L170.8,231.0 L170.8,225.5 L171.7,225.5 L171.7,232.0 L172.6,232.0 L172.6,241.8 L173.5,241.8 L173.5,213.2 L174.4,213.2 L174.4,213.9 L175.3,213.9 L175.3,240.4 L176.2,240.4 L176.2,213.2 L177.1,213.2 L177.1,241.5 L178.0,241.5 L178.0,245.9 L178.9,245.9 L178.9,228.1 L179.8,228.1 L179.8,252.0 L180.7,252.0 L180.7,223.2 L181.6,223.2 L181.6,216.9 L182.5,216.9 L182.5,210.7 L183.4,210.7 L183.4,229.8 L184.3,229.8 L184.3,219.9 L185.2,219.9 L185.2,210.7 L186.1,210.7 L186.1,175.9 L187.0,175.9 L187.0,190.8 L187.9,190.8 L187.9,157.8 L188.8,157.8 L188.8,167.6 L189.7,167.6 L189.7,203.7 L190.6,203.7 L190.6,215.2 L191.5,215.2 L191.5,211.2 L192.4,211.2 L192.4,209.9 L193.3,209.9 L193.3,206.5 L194.2,206.5 L194.2,208.0 L195.1,208.0 L195.1,201.0 L196.0,201.0 L196.0,192.3 L196.9,192.3 L196.9,199.6 L197.8,199.6 L197.8,208.2 L198.7,208.2 L198.7,214.5 L199.6,214.5 L199.6,182.6 L200.5,182.6 L200.5,209.8 L201.4,209.8 L201.4,203.4 L202.3,203.4 L202.3,201.2 L203.2,201.2 L203.2,197.3 L204.1,197.3 L204.1,202.1 L205.0,202.1 L205.0,213.3 L205.9,213.3 L205.9,217.2 L206.8,217.2 L206.8,223.3 L207.7,223.3 L207.7,208.1 L208.6,208.1 L208.6,199.5 L209.5,199.5 L209.5,202.8 L210.4,202.8 L210.4,197.5 L211.3,197.5 L211.3,198.7 L212.2,198.7 L212.2,203.3 L213.1,203.3 L213.1,202.8 L214.0,202.8 L214.0,177.8 L214.9,177.8 L214.9,197.8 L215.8,197.8 L215.8,191.7 L216.7,191.7 L216.7,190.6 L217.6,190.6 L217.6,196.2 L218.5,196.2 L218.5,195.3 L219.4,195.3 L219.4,196.4 L220.3,196.4 L220.3,168.3 L221.2,168.3 L221.2,168.5 L222.1,168.5 L222.1,198.3 L223.0,198.3 L223.0,191.6 L223.9,191.6 L223.9,182.1 L224.8,182.1 L224.8,191.7 L225.7,191.7 L225.7,197.3 L226.6,197.3 L226.6,209.0 L227.5,209.0 L227.5,221.6 L228.4,221.6 L228.4,222.5 L229.3,222.5 L229.3,114.0 L230.2,114.0 L230.2,114.0 L231.1,114.0 L231.1,181.0 L232.0,181.0 L232.0,160.1 L232.9,160.1 L232.9,167.4 L233.8,167.4 L233.8,162.7 L234.7,162.7 L234.7,184.7 L235.6,184.7 L235.6,170.0 L236.5,170.0 L236.5,201.6 L237.4,201.6 L237.4,220.6 L238.3,220.6 L238.3,234.9 L239.2,234.9 L239.2,233.0 L240.1,233.0 L240.1,194.8 L241.0,194.8 L241.0,191.7 L241.9,191.7 L241.9,222.3 L242.8,222.3 L242.8,219.3 L243.7,219.3 L243.7,213.9 L244.6,213.9 L244.6,208.2 L245.5,208.2 L245.5,211.4 L246.4,211.4 L246.4,209.4 L247.3,209.4 L247.3,204.3 L248.2,204.3 L248.2,206.1 L249.1,206.1 L249.1,215.1 L250.0,215.1 L250.0,222.0 L250.9,222.0 L250.9,221.4 L251.8,221.4 L251.8,215.7 L252.7,215.7 L252.7,218.8 L253.6,218.8 L253.6,209.0 L254.5,209.0 L254.5,219.1 L255.4,219.1 L255.4,221.6 L256.3,221.6 L256.3,246.3 L257.2,246.3 L257.2,231.9 L258.1,231.9 L258.1,226.6 L259.0,226.6 L259.0,220.8 L259.9,220.8 L259.9,214.1 L260.8,214.1 L260.8,214.2 L261.7,214.2 L261.7,181.5 L262.6,181.5 L262.6,202.4 L263.5,202.4 L263.5,198.5 L264.4,198.5 L264.4,196.0 L265.3,196.0 L265.3,194.6 L266.2,194.6 L266.2,192.8 L267.1,192.8 L267.1,188.7 L268.0,188.7 L268.0,187.4 L268.9,187.4 L268.9,174.0 L269.8,174.0 L269.8,174.0 L270.7,174.0 L270.7,189.1 L271.6,189.1 L271.6,190.2 L272.5,190.2 L272.5,206.1 L273.4,206.1 L273.4,224.3 L274.3,224.3 L274.3,212.7 L275.2,212.7 L275.2,202.1 L276.1,202.1 L276.1,191.5 L277.0,191.5 L277.0,182.3 L277.9,182.3 L277.9,183.3 L278.8,183.3 L278.8,184.7 L279.7,184.7 L279.7,187.7 L280.6,187.7 L280.6,172.5 L281.5,172.5 L281.5,178.2 L282.4,178.2 L282.4,201.1 L283.3,201.1 L283.3,184.9 L284.2,184.9 L284.2,174.0 L285.1,174.0 L285.1,171.7 L286.0,171.7 L286.0,167.0 L286.9,167.0 L286.9,179.3 L287.8,179.3 L287.8,190.8 L288.7,190.8 L288.7,195.0 L289.6,195.0 L289.6,169.2 L290.5,169.2 L290.5,163.8 L291.4,163.8 L291.4,178.9 L292.3,178.9 L292.3,182.2 L293.2,182.2 L293.2,184.5 L294.1,184.5 L294.1,182.9 L295.0,182.9 L295.0,151.8 L295.9,151.8 L295.9,148.2 L296.8,148.2 L296.8,169.5 L297.7,169.5 L297.7,173.8 L298.6,173.8 L298.6,171.0 L299.5,171.0 L299.5,173.8 L300.4,173.8 L300.4,176.0 L301.3,176.0 L301.3,177.5 L302.2,177.5 L302.2,173.6 L303.1,173.6 L303.1,172.6 L304.0,172.6 L304.0,176.4 L304.9,176.4 L304.9,174.7 L305.8,174.7 L305.8,159.9 L306.7,159.9 L306.7,180.2 L307.6,180.2 L307.6,189.1 L308.5,189.1 L308.5,200.0 L309.4,200.0 L309.4,196.8 L310.3,196.8 L310.3,189.0 L311.2,189.0 L311.2,181.9 L312.1,181.9 L312.1,173.8 L313.0,173.8 L313.0,178.2 L313.9,178.2 L313.9,179.0 L314.8,179.0 L314.8,178.9 L315.7,178.9 L315.7,175.0 L316.6,175.0 L316.6,171.6 L317.5,171.6 L317.5,165.2 L318.4,165.2 L318.4,166.1 L319.3,166.1 L319.3,175.8 L320.2,175.8 L320.2,181.4 L321.1,181.4 L321.1,185.2 L322.0,185.2 L322.0,185.9 L322.9,185.9 L322.9,182.8 L323.8,182.8 L323.8,179.6 L324.7,179.6 L324.7,174.6 L325.6,174.6 L325.6,175.5 L326.5,175.5 L326.5,180.5 L327.4,180.5 L327.4,182.1 L328.3,182.1 L328.3,181.4 L329.2,181.4 L329.2,175.9 L330.1,175.9 L330.1,179.0 L331.0,179.0 L331.0,177.7 L331.9,177.7 L331.9,167.0 L332.8,167.0 L332.8,165.5 L333.7,165.5 L333.7,175.0 L334.6,175.0 L334.6,176.9 L335.5,176.9 L335.5,177.2 L336.4,177.2 L336.4,180.6 L337.3,180.6 L337.3,180.5 L338.2,180.5 L338.2,177.9 L339.1,177.9 L339.1,175.6 L340.0,175.6 L340.0,175.2 L340.9,175.2 L340.9,173.2 L341.8,173.2 L341.8,176.4 L342.7,176.4 L342.7,175.2 L343.6,175.2 L343.6,178.5 L344.5,178.5 L344.5,174.3 L345.4,174.3 L345.4,170.8 L346.3,170.8 L346.3,169.2 L347.2,169.2 L347.2,170.7 L348.1,170.7 L348.1,171.1 L349.0,171.1 L349.0,173.1 L349.9,173.1 L349.9,178.0 L350.8,178.0 L350.8,181.0 L351.7,181.0 L351.7,181.5 L352.6,181.5 L352.6,182.5 L353.5,182.5 L353.5,185.0 L354.4,185.0 L354.4,181.6 L355.3,181.6 L355.3,165.7 L356.2,165.7 L356.2,177.5 L357.1,177.5 L357.1,177.8 L358.0,177.8 L358.0,178.4 L358.9,178.4 L358.9,178.4 L359.8,178.4 L359.8,177.1 L360.7,177.1 L360.7,181.5 L361.6,181.5 L361.6,183.9 L362.5,183.9 L362.5,180.5 L363.4,180.5 L363.4,177.7 L364.3,177.7 L364.3,177.7 L365.2,177.7 L365.2,180.0 L366.1,180.0 L366.1,175.4 L367.0,175.4 L367.0,176.4 L367.9,176.4 L367.9,175.5 L368.8,175.5 L368.8,159.4 L369.7,159.4 L369.7,163.3 L370.6,163.3 L370.6,182.7 L371.5,182.7 L371.5,186.3 L372.4,186.3 L372.4,184.0 L373.3,184.0 L373.3,174.9 L374.2,174.9 L374.2,179.5 L375.1,179.5 L375.1,179.1 L376.0,179.1 L376.0,180.8 L376.9,180.8 L376.9,177.1 L377.8,177.1 L377.8,179.1 L378.7,179.1 L378.7,183.7 L379.6,183.7 L379.6,187.1 L380.5,187.1 L380.5,192.6 L381.4,192.6 L381.4,192.7 L382.3,192.7 L382.3,189.0 L383.2,189.0 L383.2,187.0 L384.1,187.0 L384.1,185.1 L385.0,185.1 L385.0,182.7 L385.9,182.7 L385.9,182.6 L386.8,182.6 L386.8,184.9 L387.7,184.9 L387.7,188.9 L388.6,188.9 L388.6,185.5 L389.5,185.5 L389.5,183.6 L390.4,183.6 L390.4,180.6 L391.3,180.6 L391.3,179.5 L392.2,179.5 L392.2,179.4 L393.1,179.4 L393.1,162.5 L394.0,162.5 L394.0,160.3 L394.9,160.3 L394.9,172.2 L395.8,172.2 L395.8,174.0 L396.7,174.0 L396.7,176.5 L397.6,176.5 L397.6,180.2 L398.5,180.2 L398.5,177.9 L399.4,177.9 L399.4,178.4 L400.3,178.4 L400.3,182.6 L401.2,182.6 L401.2,183.7 L402.1,183.7 L402.1,170.5 L403.0,170.5 L403.0,173.5 L403.9,173.5 L403.9,176.6 L404.8,176.6 L404.8,188.2 L405.7,188.2 L405.7,186.4 L406.6,186.4 L406.6,192.6 L407.5,192.6 L407.5,197.7 L408.4,197.7 L408.4,205.0 L409.3,205.0 L409.3,212.9 L410.2,212.9 L410.2,214.2 L411.1,214.2 L411.1,202.2 L412.0,202.2 L412.0,187.7 L412.9,187.7 L412.9,184.8 L413.8,184.8 L413.8,179.5 L414.7,179.5 L414.7,174.2 L415.6,174.2 L415.6,164.9 L416.5,164.9 L416.5,183.2 L417.4,183.2 L417.4,184.0 L418.3,184.0 L418.3,179.0 L419.2,179.0 L419.2,175.5 L420.1,175.5 L420.1,171.0 L421.0,171.0 L421.0,176.3 L421.9,176.3 L421.9,180.1 L422.8,180.1 L422.8,182.1 L423.7,182.1 L423.7,180.8 L424.6,180.8 L424.6,181.8 L425.5,181.8 L425.5,185.1 L426.4,185.1 L426.4,191.6 L427.3,191.6 L427.3,187.3 L428.2,187.3 L428.2,181.1 L429.1,181.1 L429.1,178.3 L430.0,178.3 L430.0,173.7 L430.9,173.7 L430.9,176.2 L431.8,176.2 L431.8,180.5 L432.7,180.5 L432.7,179.7 L433.6,179.7 L433.6,178.6 L434.5,178.6 L434.5,178.4 L435.4,178.4 L435.4,177.4 L436.3,177.4 L436.3,178.7 L437.2,178.7 L437.2,179.2 L438.1,179.2 L438.1,178.8 L439.0,178.8 L439.0,175.3 L439.9,175.3 L439.9,169.7 L440.8,169.7 L440.8,170.8 L441.7,170.8 L441.7,177.6 L442.6,177.6 L442.6,182.3 L443.5,182.3 L443.5,179.7 L444.4,179.7 L444.4,188.1 L445.3,188.1 L445.3,180.6 L446.2,180.6 L446.2,177.3 L447.1,177.3 L447.1,174.0 L448.0,174.0 L448.0,176.8 L448.9,176.8 L448.9,178.8 L449.8,178.8 L449.8,175.7 L450.7,175.7 L450.7,175.6 L451.6,175.6 L451.6,171.3 L452.5,171.3 L452.5,174.0 L453.4,174.0 L453.4,175.8 L454.3,175.8 L454.3,175.8 L455.2,175.8 L455.2,171.7 L456.1,171.7 L456.1,177.2 L457.0,177.2 L457.0,177.1 L457.9,177.1 L457.9,173.9 L458.8,173.9 L458.8,173.7 L459.7,173.7 L459.7,170.8 L460.6,170.8 L460.6,170.2 L461.5,170.2 L461.5,177.4 L462.4,177.4 L462.4,179.3 L463.3,179.3 L463.3,164.6 L464.2,164.6 L464.2,164.3 L465.1,164.3 L465.1,180.8 L466.0,180.8 L466.0,182.0 L466.9,182.0 L466.9,172.7 L467.8,172.7 L467.8,175.4 L468.7,175.4 L468.7,176.5 L469.6,176.5 L469.6,181.4 L470.5,181.4 L470.5,178.7 L471.4,178.7 L471.4,178.8 L472.3,178.8 L472.3,180.0 L473.2,180.0 L473.2,181.5 L474.1,181.5 L474.1,181.9 L475.0,181.9 L475.0,181.1 L475.9,181.1 L475.9,177.6 L476.8,177.6 L476.8,176.8 L477.7,176.8 L477.7,174.7 L478.6,174.7 L478.6,172.4 L479.5,172.4 L479.5,167.3 L480.4,167.3 L480.4,167.0 L481.3,167.0 L481.3,169.6 L482.2,169.6 L482.2,175.5 L483.1,175.5 L483.1,158.2 L484.0,158.2 L484.0,154.0 L484.9,154.0 L484.9,149.9 L485.8,149.9 L485.8,171.2 L486.7,171.2 L486.7,174.5 L487.6,174.5 L487.6,183.2 L488.5,183.2 L488.5,193.4 L489.4,193.4 L489.4,189.1 L490.3,189.1 L490.3,178.8 L491.2,178.8 L491.2,170.8 L492.1,170.8 L492.1,172.9 L493.0,172.9 L493.0,177.7 L493.9,177.7 L493.9,178.9 L494.8,178.9 L494.8,176.3 L495.7,176.3 L495.7,176.8 L496.6,176.8 L496.6,174.0 L497.5,174.0 L497.5,170.6 L498.4,170.6 L498.4,164.8 L499.3,164.8 L499.3,154.0 L500.2,154.0 L500.2,169.8 L501.1,169.8 L501.1,169.3 L502.0,169.3 L502.0,172.5 L502.9,172.5 L502.9,172.0 L503.8,172.0 L503.8,173.1 L504.7,173.1 L504.7,178.6 L505.6,178.6 L505.6,180.5 L506.5,180.5 L506.5,173.0 L507.4,173.0 L507.4,168.2 L508.3,168.2 L508.3,159.1 L509.2,159.1 L509.2,167.7 L510.1,167.7 L510.1,172.1 L511.0,172.1 L511.0,176.5 L511.9,176.5 L511.9,181.5 L512.8,181.5 L512.8,183.1 L513.7,183.1 L513.7,181.7 L514.6,181.7 L514.6,176.5 L515.5,176.5 L515.5,154.6 L516.4,154.6 L516.4,155.5 L517.3,155.5 L517.3,174.6 L518.2,174.6 L518.2,172.4 L519.1,172.4 L519.1,174.5 L520.0,174.5 L520.0,173.6 L520.9,173.6 L520.9,172.0 L521.8,172.0 L521.8,167.7 L522.7,167.7 L522.7,168.1 L523.6,168.1 L523.6,174.0 L524.5,174.0 L524.5,177.1 L525.4,177.1 L525.4,178.9 L526.3,178.9 L526.3,176.9 L527.2,176.9 L527.2,174.0 L528.1,174.0 L528.1,170.9 L529.0,170.9 L529.0,170.9 L529.9,170.9 L529.9,167.2 L530.8,167.2 L530.8,160.3 L531.7,160.3 L531.7,168.4 L532.6,168.4 L532.6,169.4 L533.5,169.4 L533.5,170.1 L534.4,170.1 L534.4,170.7 L535.3,170.7 L535.3,167.9 L536.2,167.9 L536.2,167.7 L537.1,167.7 L537.1,161.8 L538.0,161.8 L538.0,163.1 L538.9,163.1 L538.9,151.3 L539.8,151.3 L539.8,159.4 L540.7,159.4 L540.7,180.4 L541.6,180.4 L541.6,186.4 L542.5,186.4 L542.5,182.4 L543.4,182.4 L543.4,175.8 L544.3,175.8 L544.3,171.4 L545.2,171.4 L545.2,167.9 L546.1,167.9 L546.1,168.2 L547.0,168.2 L547.0,164.8 L547.9,164.8 L547.9,168.5 L548.8,168.5 L548.8,169.8 L549.7,169.8 L549.7,165.4 L550.6,165.4 L550.6,167.4 L551.5,167.4 L551.5,170.2 L552.4,170.2 L552.4,174.8 L553.3,174.8 L553.3,177.2 L554.2,177.2 L554.2,179.2 L555.1,179.2 L555.1,169.0 L556.0,169.0 L556.0,164.5 L556.9,164.5 L556.9,160.0 L557.8,160.0 L557.8,167.3 L558.7,167.3 L558.7,169.6 L559.6,169.6 L559.6,170.1 L560.5,170.1 L560.5,174.8 L561.4,174.8 L561.4,186.3 L562.3,186.3 L562.3,193.7 L563.2,193.7 L563.2,196.2 L564.1,196.2 L564.1,186.1 L565.0,186.1 L565.0,173.0 L565.9,173.0 L565.9,162.8 L566.8,162.8 L566.8,169.6 L567.7,169.6 L567.7,177.4 L568.6,177.4 L568.6,186.7 L569.5,186.7 L569.5,196.3 L570.4,196.3 L570.4,207.6 L571.3,207.6 L571.3,219.1 L572.2,219.1 L572.2,217.6 L573.1,217.6 L573.1,196.7 L574.0,196.7 L574.0,176.7 L574.9,176.7 L574.9,161.6 L575.8,161.6 L575.8,119.0 L576.7,119.0 L576.7,119.0 L577.6,119.0 L577.6,144.2 L578.5,144.2 L578.5,169.6 L579.4,169.6 L579.4,174.9 L580.3,174.9 L580.3,178.1 L581.2,178.1 L581.2,175.6 L582.1,175.6 L582.1,186.4 L583.0,186.4 L583.0,202.0 L583.9,202.0 L583.9,222.5 L584.8,222.5 L584.8,222.1 L585.7,222.1 L585.7,193.3 L586.6,193.3 L586.6,166.1 L587.5,166.1 L587.5,89.0 L588.4,89.0 L588.4,89.0 L589.3,89.0 L589.3,152.1 L590.2,152.1 L590.2,163.5 L591.1,163.5 L591.1,176.6 L592.0,176.6 L592.0,173.9 L592.9,173.9 L592.9,168.4 L593.8,168.4 L593.8,163.8 L594.7,163.8 L594.7,159.9 L595.6,159.9 L595.6,153.2 L596.5,153.2 L596.5,132.3 L597.4,132.3 L597.4,139.4 L598.3,139.4 L598.3,86.0 L599.2,86.0 L599.2,86.0 L600.1,86.0 L600.1,156.4 L601.0,156.4 L601.0,162.5 L601.9,162.5 L601.9,168.5 L602.8,168.5 L602.8,171.3 L603.7,171.3 L603.7,166.6 L604.6,166.6 L604.6,165.8 L605.5,165.8 L605.5,166.0 L606.4,166.0 L606.4,148.8 L607.3,148.8 L607.3,147.0 L608.2,147.0 L608.2,155.6 L609.1,155.6 L609.1,155.6 L610.0,155.6 L610.0,168.9 L610.9,168.9 L610.9,168.5 L611.8,168.5 L611.8,147.0 L612.7,147.0 L612.7,147.0 L613.6,147.0 L613.6,164.0 L614.5,164.0 L614.5,165.9 L615.4,165.9 L615.4,171.1 L616.3,171.1 L616.3,168.6 L617.2,168.6 L617.2,160.7 L618.1,160.7 L618.1,157.7 L619.0,157.7 L619.0,155.6 L619.9,155.6 L619.9,181.9 L619.0,181.9 L619.0,183.2 L618.1,183.2 L618.1,167.6 L617.2,167.6 L617.2,176.3 L616.3,176.3 L616.3,175.3 L615.4,175.3 L615.4,189.8 L614.5,189.8 L614.5,186.3 L613.6,186.3 L613.6,185.7 L612.7,185.7 L612.7,171.2 L611.8,171.2 L611.8,174.8 L610.9,174.8 L610.9,171.3 L610.0,171.3 L610.0,170.9 L609.1,170.9 L609.1,167.5 L608.2,167.5 L608.2,171.0 L607.3,171.0 L607.3,171.2 L606.4,171.2 L606.4,173.3 L605.5,173.3 L605.5,208.4 L604.6,208.4 L604.6,209.2 L603.7,209.2 L603.7,207.0 L602.8,207.0 L602.8,171.6 L601.9,171.6 L601.9,166.5 L601.0,166.5 L601.0,163.4 L600.1,163.4 L600.1,156.8 L599.2,156.8 L599.2,139.8 L598.3,139.8 L598.3,143.4 L597.4,143.4 L597.4,152.9 L596.5,152.9 L596.5,161.3 L595.6,161.3 L595.6,163.4 L594.7,163.4 L594.7,168.7 L593.8,168.7 L593.8,175.8 L592.9,175.8 L592.9,177.6 L592.0,177.6 L592.0,220.0 L591.1,220.0 L591.1,220.0 L590.2,220.0 L590.2,154.8 L589.3,154.8 L589.3,156.9 L588.4,156.9 L588.4,165.2 L587.5,165.2 L587.5,183.7 L586.6,183.7 L586.6,196.8 L585.7,196.8 L585.7,313.0 L584.8,313.0 L584.8,313.0 L583.9,313.0 L583.9,212.0 L583.0,212.0 L583.0,193.0 L582.1,193.0 L582.1,180.8 L581.2,180.8 L581.2,181.0 L580.3,181.0 L580.3,181.0 L579.4,181.0 L579.4,178.2 L578.5,178.2 L578.5,167.1 L577.6,167.1 L577.6,161.5 L576.7,161.5 L576.7,159.2 L575.8,159.2 L575.8,165.4 L574.9,165.4 L574.9,179.3 L574.0,179.3 L574.0,203.9 L573.1,203.9 L573.1,260.0 L572.2,260.0 L572.2,260.0 L571.3,260.0 L571.3,210.6 L570.4,210.6 L570.4,202.4 L569.5,202.4 L569.5,190.0 L568.6,190.0 L568.6,183.7 L567.7,183.7 L567.7,176.1 L566.8,176.1 L566.8,176.6 L565.9,176.6 L565.9,177.5 L565.0,177.5 L565.0,188.8 L564.1,188.8 L564.1,256.0 L563.2,256.0 L563.2,256.0 L562.3,256.0 L562.3,221.4 L561.4,221.4 L561.4,181.2 L560.5,181.2 L560.5,178.2 L559.6,178.2 L559.6,178.3 L558.7,178.3 L558.7,174.5 L557.8,174.5 L557.8,173.3 L556.9,173.3 L556.9,178.4 L556.0,178.4 L556.0,183.3 L555.1,183.3 L555.1,213.0 L554.2,213.0 L554.2,213.0 L553.3,213.0 L553.3,179.4 L552.4,179.4 L552.4,176.8 L551.5,176.8 L551.5,179.3 L550.6,179.3 L550.6,177.1 L549.7,177.1 L549.7,174.7 L548.8,174.7 L548.8,172.2 L547.9,172.2 L547.9,172.0 L547.0,172.0 L547.0,172.4 L546.1,172.4 L546.1,172.2 L545.2,172.2 L545.2,177.9 L544.3,177.9 L544.3,180.9 L543.4,180.9 L543.4,185.9 L542.5,185.9 L542.5,222.0 L541.6,222.0 L541.6,222.0 L540.7,222.0 L540.7,180.7 L539.8,180.7 L539.8,169.6 L538.9,169.6 L538.9,165.1 L538.0,165.1 L538.0,167.9 L537.1,167.9 L537.1,170.4 L536.2,170.4 L536.2,173.2 L535.3,173.2 L535.3,174.7 L534.4,174.7 L534.4,174.9 L533.5,174.9 L533.5,173.2 L532.6,173.2 L532.6,179.0 L531.7,179.0 L531.7,178.2 L530.8,178.2 L530.8,179.7 L529.9,179.7 L529.9,175.3 L529.0,175.3 L529.0,178.9 L528.1,178.9 L528.1,177.6 L527.2,177.6 L527.2,180.7 L526.3,180.7 L526.3,182.2 L525.4,182.2 L525.4,183.1 L524.5,183.1 L524.5,179.2 L523.6,179.2 L523.6,174.1 L522.7,174.1 L522.7,173.0 L521.8,173.0 L521.8,178.3 L520.9,178.3 L520.9,179.3 L520.0,179.3 L520.0,181.8 L519.1,181.8 L519.1,181.5 L518.2,181.5 L518.2,180.8 L517.3,180.8 L517.3,178.9 L516.4,178.9 L516.4,177.9 L515.5,177.9 L515.5,182.8 L514.6,182.8 L514.6,186.6 L513.7,186.6 L513.7,209.4 L512.8,209.4 L512.8,205.3 L511.9,205.3 L511.9,201.1 L511.0,201.1 L511.0,179.0 L510.1,179.0 L510.1,174.3 L509.2,174.3 L509.2,169.3 L508.3,169.3 L508.3,197.0 L507.4,197.0 L507.4,203.2 L506.5,203.2 L506.5,183.8 L505.6,183.8 L505.6,181.7 L504.7,181.7 L504.7,183.1 L503.8,183.1 L503.8,175.7 L502.9,175.7 L502.9,178.0 L502.0,178.0 L502.0,176.5 L501.1,176.5 L501.1,174.1 L500.2,174.1 L500.2,170.9 L499.3,170.9 L499.3,173.1 L498.4,173.1 L498.4,179.3 L497.5,179.3 L497.5,183.0 L496.6,183.0 L496.6,182.6 L495.7,182.6 L495.7,180.6 L494.8,180.6 L494.8,182.6 L493.9,182.6 L493.9,184.0 L493.0,184.0 L493.0,198.6 L492.1,198.6 L492.1,195.5 L491.2,195.5 L491.2,184.6 L490.3,184.6 L490.3,243.0 L489.4,243.0 L489.4,243.0 L488.5,243.0 L488.5,190.1 L487.6,190.1 L487.6,178.8 L486.7,178.8 L486.7,176.4 L485.8,176.4 L485.8,168.5 L484.9,168.5 L484.9,176.0 L484.0,176.0 L484.0,180.1 L483.1,180.1 L483.1,182.3 L482.2,182.3 L482.2,175.0 L481.3,175.0 L481.3,170.7 L480.4,170.7 L480.4,173.1 L479.5,173.1 L479.5,177.6 L478.6,177.6 L478.6,180.3 L477.7,180.3 L477.7,180.3 L476.8,180.3 L476.8,183.1 L475.9,183.1 L475.9,185.5 L475.0,185.5 L475.0,189.9 L474.1,189.9 L474.1,190.1 L473.2,190.1 L473.2,184.0 L472.3,184.0 L472.3,182.5 L471.4,182.5 L471.4,195.8 L470.5,195.8 L470.5,200.3 L469.6,200.3 L469.6,190.0 L468.7,190.0 L468.7,189.2 L467.8,189.2 L467.8,188.5 L466.9,188.5 L466.9,188.9 L466.0,188.9 L466.0,183.9 L465.1,183.9 L465.1,183.8 L464.2,183.8 L464.2,183.7 L463.3,183.7 L463.3,183.3 L462.4,183.3 L462.4,180.6 L461.5,180.6 L461.5,175.6 L460.6,175.6 L460.6,173.4 L459.7,173.4 L459.7,178.2 L458.8,178.2 L458.8,179.6 L457.9,179.6 L457.9,184.7 L457.0,184.7 L457.0,184.2 L456.1,184.2 L456.1,182.5 L455.2,182.5 L455.2,182.3 L454.3,182.3 L454.3,180.1 L453.4,180.1 L453.4,177.6 L452.5,177.6 L452.5,177.7 L451.6,177.7 L451.6,181.4 L450.7,181.4 L450.7,180.9 L449.8,180.9 L449.8,182.0 L448.9,182.0 L448.9,181.4 L448.0,181.4 L448.0,183.6 L447.1,183.6 L447.1,189.6 L446.2,189.6 L446.2,191.0 L445.3,191.0 L445.3,203.7 L444.4,203.7 L444.4,200.1 L443.5,200.1 L443.5,185.2 L442.6,185.2 L442.6,180.4 L441.7,180.4 L441.7,176.0 L440.8,176.0 L440.8,177.3 L439.9,177.3 L439.9,179.8 L439.0,179.8 L439.0,183.0 L438.1,183.0 L438.1,185.6 L437.2,185.6 L437.2,187.7 L436.3,187.7 L436.3,184.3 L435.4,184.3 L435.4,182.6 L434.5,182.6 L434.5,181.0 L433.6,181.0 L433.6,184.5 L432.7,184.5 L432.7,186.1 L431.8,186.1 L431.8,193.8 L430.9,193.8 L430.9,188.7 L430.0,188.7 L430.0,184.4 L429.1,184.4 L429.1,187.1 L428.2,187.1 L428.2,190.4 L427.3,190.4 L427.3,193.4 L426.4,193.4 L426.4,190.4 L425.5,190.4 L425.5,185.8 L424.6,185.8 L424.6,188.4 L423.7,188.4 L423.7,188.2 L422.8,188.2 L422.8,208.6 L421.9,208.6 L421.9,203.7 L421.0,203.7 L421.0,176.3 L420.1,176.3 L420.1,182.4 L419.2,182.4 L419.2,184.8 L418.3,184.8 L418.3,188.2 L417.4,188.2 L417.4,186.6 L416.5,186.6 L416.5,183.8 L415.6,183.8 L415.6,179.5 L414.7,179.5 L414.7,184.1 L413.8,184.1 L413.8,192.5 L412.9,192.5 L412.9,199.3 L412.0,199.3 L412.0,207.8 L411.1,207.8 L411.1,279.0 L410.2,279.0 L410.2,279.0 L409.3,279.0 L409.3,208.8 L408.4,208.8 L408.4,201.6 L407.5,201.6 L407.5,196.3 L406.6,196.3 L406.6,191.3 L405.7,191.3 L405.7,192.6 L404.8,192.6 L404.8,198.1 L403.9,198.1 L403.9,198.2 L403.0,198.2 L403.0,191.3 L402.1,191.3 L402.1,192.6 L401.2,192.6 L401.2,187.3 L400.3,187.3 L400.3,186.6 L399.4,186.6 L399.4,184.6 L398.5,184.6 L398.5,184.2 L397.6,184.2 L397.6,182.9 L396.7,182.9 L396.7,177.5 L395.8,177.5 L395.8,178.2 L394.9,178.2 L394.9,179.5 L394.0,179.5 L394.0,181.7 L393.1,181.7 L393.1,185.2 L392.2,185.2 L392.2,185.9 L391.3,185.9 L391.3,186.2 L390.4,186.2 L390.4,191.1 L389.5,191.1 L389.5,191.7 L388.6,191.7 L388.6,193.4 L387.7,193.4 L387.7,191.6 L386.8,191.6 L386.8,189.9 L385.9,189.9 L385.9,188.8 L385.0,188.8 L385.0,188.2 L384.1,188.2 L384.1,191.7 L383.2,191.7 L383.2,195.6 L382.3,195.6 L382.3,197.3 L381.4,197.3 L381.4,200.9 L380.5,200.9 L380.5,196.5 L379.6,196.5 L379.6,188.9 L378.7,188.9 L378.7,183.3 L377.8,183.3 L377.8,183.5 L376.9,183.5 L376.9,182.9 L376.0,182.9 L376.0,188.4 L375.1,188.4 L375.1,181.8 L374.2,181.8 L374.2,183.0 L373.3,183.0 L373.3,187.6 L372.4,187.6 L372.4,193.8 L371.5,193.8 L371.5,187.1 L370.6,187.1 L370.6,182.2 L369.7,182.2 L369.7,179.5 L368.8,179.5 L368.8,178.8 L367.9,178.8 L367.9,184.5 L367.0,184.5 L367.0,202.8 L366.1,202.8 L366.1,184.7 L365.2,184.7 L365.2,185.3 L364.3,185.3 L364.3,183.9 L363.4,183.9 L363.4,188.1 L362.5,188.1 L362.5,187.9 L361.6,187.9 L361.6,185.0 L360.7,185.0 L360.7,183.8 L359.8,183.8 L359.8,181.1 L358.9,181.1 L358.9,183.3 L358.0,183.3 L358.0,181.4 L357.1,181.4 L357.1,206.9 L356.2,206.9 L356.2,209.3 L355.3,209.3 L355.3,185.8 L354.4,185.8 L354.4,190.7 L353.5,190.7 L353.5,187.7 L352.6,187.7 L352.6,185.5 L351.7,185.5 L351.7,203.6 L350.8,203.6 L350.8,181.3 L349.9,181.3 L349.9,193.9 L349.0,193.9 L349.0,174.4 L348.1,174.4 L348.1,174.0 L347.2,174.0 L347.2,174.0 L346.3,174.0 L346.3,177.4 L345.4,177.4 L345.4,180.0 L344.5,180.0 L344.5,182.0 L343.6,182.0 L343.6,181.7 L342.7,181.7 L342.7,179.5 L341.8,179.5 L341.8,176.9 L340.9,176.9 L340.9,179.7 L340.0,179.7 L340.0,182.4 L339.1,182.4 L339.1,216.5 L338.2,216.5 L338.2,217.9 L337.3,217.9 L337.3,187.9 L336.4,187.9 L336.4,185.6 L335.5,185.6 L335.5,182.7 L334.6,182.7 L334.6,182.9 L333.7,182.9 L333.7,182.9 L332.8,182.9 L332.8,181.3 L331.9,181.3 L331.9,181.6 L331.0,181.6 L331.0,187.5 L330.1,187.5 L330.1,186.0 L329.2,186.0 L329.2,187.0 L328.3,187.0 L328.3,185.7 L327.4,185.7 L327.4,188.2 L326.5,188.2 L326.5,183.9 L325.6,183.9 L325.6,182.2 L324.7,182.2 L324.7,186.2 L323.8,186.2 L323.8,191.4 L322.9,191.4 L322.9,190.1 L322.0,190.1 L322.0,192.2 L321.1,192.2 L321.1,188.3 L320.2,188.3 L320.2,180.3 L319.3,180.3 L319.3,173.5 L318.4,173.5 L318.4,174.1 L317.5,174.1 L317.5,176.9 L316.6,176.9 L316.6,179.0 L315.7,179.0 L315.7,186.4 L314.8,186.4 L314.8,185.7 L313.9,185.7 L313.9,183.0 L313.0,183.0 L313.0,181.7 L312.1,181.7 L312.1,189.8 L311.2,189.8 L311.2,206.6 L310.3,206.6 L310.3,222.0 L309.4,222.0 L309.4,222.0 L308.5,222.0 L308.5,194.7 L307.6,194.7 L307.6,185.2 L306.7,185.2 L306.7,177.3 L305.8,177.3 L305.8,180.0 L304.9,180.0 L304.9,179.4 L304.0,179.4 L304.0,179.2 L303.1,179.2 L303.1,180.1 L302.2,180.1 L302.2,180.0 L301.3,180.0 L301.3,179.0 L300.4,179.0 L300.4,178.7 L299.5,178.7 L299.5,205.4 L298.6,205.4 L298.6,178.3 L297.7,178.3 L297.7,206.1 L296.8,206.1 L296.8,208.5 L295.9,208.5 L295.9,212.1 L295.0,212.1 L295.0,185.4 L294.1,185.4 L294.1,190.1 L293.2,190.1 L293.2,191.8 L292.3,191.8 L292.3,200.4 L291.4,200.4 L291.4,205.8 L290.5,205.8 L290.5,227.0 L289.6,227.0 L289.6,227.0 L288.7,227.0 L288.7,229.1 L287.8,229.1 L287.8,217.5 L286.9,217.5 L286.9,172.7 L286.0,172.7 L286.0,177.5 L285.1,177.5 L285.1,178.7 L284.2,178.7 L284.2,193.5 L283.3,193.5 L283.3,204.7 L282.4,204.7 L282.4,207.1 L281.5,207.1 L281.5,246.0 L280.6,246.0 L280.6,246.0 L279.7,246.0 L279.7,189.5 L278.8,189.5 L278.8,190.4 L277.9,190.4 L277.9,189.5 L277.0,189.5 L277.0,194.6 L276.1,194.6 L276.1,205.2 L275.2,205.2 L275.2,273.0 L274.3,273.0 L274.3,273.0 L273.4,273.0 L273.4,212.5 L272.5,212.5 L272.5,219.3 L271.6,219.3 L271.6,218.3 L270.7,218.3 L270.7,193.8 L269.8,193.8 L269.8,220.7 L268.9,220.7 L268.9,220.3 L268.0,220.3 L268.0,194.5 L267.1,194.5 L267.1,196.0 L266.2,196.0 L266.2,198.5 L265.3,198.5 L265.3,204.6 L264.4,204.6 L264.4,203.3 L263.5,203.3 L263.5,209.0 L262.6,209.0 L262.6,218.1 L261.7,218.1 L261.7,300.0 L260.8,300.0 L260.8,300.0 L259.9,300.0 L259.9,223.2 L259.0,223.2 L259.0,233.1 L258.1,233.1 L258.1,243.5 L257.2,243.5 L257.2,253.2 L256.3,253.2 L256.3,255.0 L255.4,255.0 L255.4,250.5 L254.5,250.5 L254.5,260.1 L253.6,260.1 L253.6,250.0 L252.7,250.0 L252.7,223.2 L251.8,223.2 L251.8,228.7 L250.9,228.7 L250.9,228.1 L250.0,228.1 L250.0,221.6 L249.1,221.6 L249.1,213.4 L248.2,213.4 L248.2,207.7 L247.3,207.7 L247.3,213.5 L246.4,213.5 L246.4,216.9 L245.5,216.9 L245.5,213.4 L244.6,213.4 L244.6,235.3 L243.7,235.3 L243.7,241.2 L242.8,241.2 L242.8,290.0 L241.9,290.0 L241.9,290.0 L241.0,290.0 L241.0,230.6 L240.1,230.6 L240.1,276.0 L239.2,276.0 L239.2,276.0 L238.3,276.0 L238.3,224.7 L237.4,224.7 L237.4,210.6 L236.5,210.6 L236.5,194.5 L235.6,194.5 L235.6,190.2 L234.7,190.2 L234.7,199.2 L233.8,199.2 L233.8,205.3 L232.9,205.3 L232.9,199.9 L232.0,199.9 L232.0,190.6 L231.1,190.6 L231.1,191.8 L230.2,191.8 L230.2,269.0 L229.3,269.0 L229.3,269.0 L228.4,269.0 L228.4,228.6 L227.5,228.6 L227.5,217.6 L226.6,217.6 L226.6,204.7 L225.7,204.7 L225.7,197.8 L224.8,197.8 L224.8,191.3 L223.9,191.3 L223.9,198.4 L223.0,198.4 L223.0,204.3 L222.1,204.3 L222.1,202.9 L221.2,202.9 L221.2,203.7 L220.3,203.7 L220.3,201.4 L219.4,201.4 L219.4,202.0 L218.5,202.0 L218.5,203.7 L217.6,203.7 L217.6,199.8 L216.7,199.8 L216.7,202.5 L215.8,202.5 L215.8,204.3 L214.9,204.3 L214.9,207.1 L214.0,207.1 L214.0,215.9 L213.1,215.9 L213.1,223.3 L212.2,223.3 L212.2,218.2 L211.3,218.2 L211.3,220.1 L210.4,220.1 L210.4,212.3 L209.5,212.3 L209.5,217.8 L208.6,217.8 L208.6,243.0 L207.7,243.0 L207.7,243.0 L206.8,243.0 L206.8,223.4 L205.9,223.4 L205.9,216.6 L205.0,216.6 L205.0,211.7 L204.1,211.7 L204.1,204.0 L203.2,204.0 L203.2,208.5 L202.3,208.5 L202.3,211.5 L201.4,211.5 L201.4,217.2 L200.5,217.2 L200.5,242.0 L199.6,242.0 L199.6,242.0 L198.7,242.0 L198.7,216.6 L197.8,216.6 L197.8,207.2 L196.9,207.2 L196.9,199.7 L196.0,199.7 L196.0,206.7 L195.1,206.7 L195.1,214.8 L194.2,214.8 L194.2,234.7 L193.3,234.7 L193.3,238.0 L192.4,238.0 L192.4,228.8 L191.5,228.8 L191.5,238.0 L190.6,238.0 L190.6,238.0 L189.7,238.0 L189.7,191.0 L188.8,191.0 L188.8,184.1 L187.9,184.1 L187.9,230.5 L187.0,230.5 L187.0,242.0 L186.1,242.0 L186.1,251.0 L185.2,251.0 L185.2,224.2 L184.3,224.2 L184.3,260.1 L183.4,260.1 L183.4,266.4 L182.5,266.4 L182.5,272.6 L181.6,272.6 L181.6,266.0 L180.7,266.0 L180.7,266.0 L179.8,266.0 L179.8,276.0 L178.9,276.0 L178.9,250.3 L178.0,250.3 L178.0,244.4 L177.1,244.4 L177.1,246.3 L176.2,246.3 L176.2,251.4 L175.3,251.4 L175.3,246.0 L174.4,246.0 L174.4,245.6 L173.5,245.6 L173.5,246.6 L172.6,246.6 L172.6,272.0 L171.7,272.0 L171.7,272.0 L170.8,272.0 L170.8,233.1 L169.9,233.1 L169.9,231.7 L169.0,231.7 L169.0,227.3 L168.1,227.3 L168.1,352.0 L167.2,352.0 L167.2,352.0 L166.3,352.0 L166.3,227.3 L165.4,227.3 L165.4,224.3 L164.5,224.3 L164.5,216.8 L163.6,216.8 L163.6,219.9 L162.7,219.9 L162.7,223.5 L161.8,223.5 L161.8,220.4 L160.9,220.4 L160.9,212.1 L160.0,212.1 L160.0,206.7 L159.1,206.7 L159.1,210.1 L158.2,210.1 L158.2,214.1 L157.3,214.1 L157.3,208.8 L156.4,208.8 L156.4,227.9 L155.5,227.9 L155.5,229.6 L154.6,229.6 L154.6,208.4 L153.7,208.4 L153.7,209.3 L152.8,209.3 L152.8,208.9 L151.9,208.9 L151.9,208.8 L151.0,208.8 L151.0,210.4 L150.1,210.4 L150.1,211.2 L149.2,211.2 L149.2,211.8 L148.3,211.8 L148.3,213.7 L147.4,213.7 L147.4,210.5 L146.5,210.5 L146.5,204.8 L145.6,204.8 L145.6,201.3 L144.7,201.3 L144.7,199.6 L143.8,199.6 L143.8,201.8 L142.9,201.8 L142.9,207.6 L142.0,207.6 L142.0,214.3 L141.1,214.3 L141.1,217.0 L140.2,217.0 L140.2,215.5 L139.3,215.5 L139.3,209.8 L138.4,209.8 L138.4,205.8 L137.5,205.8 L137.5,206.2 L136.6,206.2 L136.6,217.3 L135.7,217.3 L135.7,217.9 L134.8,217.9 L134.8,201.0 L133.9,201.0 L133.9,205.1 L133.0,205.1 L133.0,206.2 L132.1,206.2 L132.1,204.3 L131.2,204.3 L131.2,206.9 L130.3,206.9 L130.3,209.1 L129.4,209.1 L129.4,209.0 L128.5,209.0 L128.5,218.1 L127.6,218.1 L127.6,213.2 L126.7,213.2 L126.7,204.4 L125.8,204.4 L125.8,189.2 L124.9,189.2 L124.9,196.2 L124.0,196.2 L124.0,200.2 L123.1,200.2 L123.1,194.5 L122.2,194.5 L122.2,196.5 L121.3,196.5 L121.3,199.5 L120.4,199.5 L120.4,199.7 L119.5,199.7 L119.5,201.5 L118.6,201.5 L118.6,201.4 L117.7,201.4 L117.7,204.0 L116.8,204.0 L116.8,206.4 L115.9,206.4 L115.9,208.3 L115.0,208.3 L115.0,209.9 L114.1,209.9 L114.1,212.9 L113.2,212.9 L113.2,217.2 L112.3,217.2 L112.3,215.8 L111.4,215.8 L111.4,213.2 L110.5,213.2 L110.5,210.5 L109.6,210.5 L109.6,208.4 L108.7,208.4 L108.7,204.3 L107.8,204.3 L107.8,202.5 L106.9,202.5 L106.9,203.1 L106.0,203.1 L106.0,206.0 L105.1,206.0 L105.1,210.0 L104.2,210.0 L104.2,214.0 L103.3,214.0 L103.3,217.3 L102.4,217.3 L102.4,211.6 L101.5,211.6 L101.5,227.5 L100.6,227.5 L100.6,231.4 L99.7,231.4 L99.7,226.2 L98.8,226.2 L98.8,237.3 L97.9,237.3 L97.9,239.4 L97.0,239.4 L97.0,231.8 L96.1,231.8 L96.1,243.1 L95.2,243.1 L95.2,255.5 L94.3,255.5 L94.3,257.6 L93.4,257.6 L93.4,266.1 L92.5,266.1 L92.5,263.2 L91.6,263.2 L91.6,265.9 L90.7,265.9 L90.7,266.8 L89.8,266.8 L89.8,277.3 L88.9,277.3 L88.9,294.4 L88.0,294.4 L88.0,309.0 L87.1,309.0 L87.1,322.1 L86.2,322.1 L86.2,376.0 L85.3,376.0 L85.3,376.0 L84.4,376.0 L84.4,318.9 L83.5,318.9 L83.5,317.5 L82.6,317.5 L82.6,300.0 L81.7,300.0 L81.7,364.0 L80.8,364.0 L80.8,364.0 L79.9,364.0 L79.9,275.1 L79.0,275.1 L79.0,272.4 L78.1,272.4 L78.1,268.7 L77.2,268.7 L77.2,253.8 L76.3,253.8 L76.3,268.5 L75.4,268.5 L75.4,292.5 L74.5,292.5 L74.5,315.1 L73.6,315.1 L73.6,410.0 L72.7,410.0 L72.7,410.0 L71.8,410.0 L71.8,383.8 L70.9,383.8 L70.9,344.8 L70.0,344.8 L70.0,329.9 L69.1,329.9 L69.1,318.8 L68.2,318.8 L68.2,300.0 L67.3,300.0 L67.3,289.8 L66.4,289.8 L66.4,281.8 L65.5,281.8 L65.5,284.1 L64.6,284.1 L64.6,300.5 L63.7,300.5 L63.7,314.1 L62.8,314.1 L62.8,309.8 L61.9,309.8 L61.9,300.2 L61.0,300.2 L61.0,281.9 L60.1,281.9 L60.1,268.2 L59.2,268.2 L59.2,278.1 L58.3,278.1 L58.4,296.9 L57.4,296.9 L57.5,307.2 L56.5,307.2 L56.6,378.0 L55.6,378.0 L55.7,378.0 L54.8,378.0Z" fill="#A35A42" fill-opacity="0.11"/>
<path d="M54.8,231.5 L55.7,231.5 L55.6,250.5 L56.6,250.5 L56.5,269.1 L57.5,269.1 L57.4,279.5 L58.4,279.5 L58.3,266.4 L59.2,266.4 L59.2,253.3 L60.1,253.3 L60.1,238.8 L61.0,238.8 L61.0,228.9 L61.9,228.9 L61.9,210.9 L62.8,210.9 L62.8,194.2 L63.7,194.2 L63.7,206.2 L64.6,206.2 L64.6,206.2 L65.5,206.2 L65.5,194.1 L66.4,194.1 L66.4,182.3 L67.3,182.3 L67.3,180.5 L68.2,180.5 L68.2,186.1 L69.1,186.1 L69.1,177.1 L70.0,177.1 L70.0,183.1 L70.9,183.1 L70.9,177.6 L71.8,177.6 L71.8,171.6 L72.7,171.6 L72.7,163.1 L73.6,163.1 L73.6,149.6 L74.5,149.6 L74.5,141.6 L75.4,141.6 L75.4,162.0 L76.3,162.0 L76.3,165.0 L77.2,165.0 L77.2,167.1 L78.1,167.1 L78.1,171.2 L79.0,171.2 L79.0,173.5 L79.9,173.5 L79.9,169.2 L80.8,169.2 L80.8,157.0 L81.7,157.0 L81.7,148.4 L82.6,148.4 L82.6,152.9 L83.5,152.9 L83.5,162.5 L84.4,162.5 L84.4,145.4 L85.3,145.4 L85.3,149.2 L86.2,149.2 L86.2,152.9 L87.1,152.9 L87.1,164.6 L88.0,164.6 L88.0,155.1 L88.9,155.1 L88.9,152.2 L89.8,152.2 L89.8,149.7 L90.7,149.7 L90.7,122.0 L91.6,122.0 L91.6,119.8 L92.5,119.8 L92.5,148.1 L93.4,148.1 L93.4,133.6 L94.3,133.6 L94.3,99.5 L95.2,99.5 L95.2,94.4 L96.1,94.4 L96.1,140.5 L97.0,140.5 L97.0,149.4 L97.9,149.4 L97.9,163.3 L98.8,163.3 L98.8,164.5 L99.7,164.5 L99.7,165.8 L100.6,165.8 L100.6,154.2 L101.5,154.2 L101.5,131.0 L102.4,131.0 L102.4,136.0 L103.3,136.0 L103.3,142.8 L104.2,142.8 L104.2,147.1 L105.1,147.1 L105.1,144.4 L106.0,144.4 L106.0,135.8 L106.9,135.8 L106.9,127.3 L107.8,127.3 L107.8,114.9 L108.7,114.9 L108.7,88.9 L109.6,88.9 L109.6,127.9 L110.5,127.9 L110.5,115.2 L111.4,115.2 L111.4,98.9 L112.3,98.9 L112.3,87.4 L113.2,87.4 L113.2,89.9 L114.1,89.9 L114.1,85.9 L115.0,85.9 L115.0,100.0 L115.9,100.0 L115.9,109.4 L116.8,109.4 L116.8,105.6 L117.7,105.6 L117.7,101.4 L118.6,101.4 L118.6,103.2 L119.5,103.2 L119.5,119.4 L120.4,119.4 L120.4,95.4 L121.3,95.4 L121.3,87.0 L122.2,87.0 L122.2,100.1 L123.1,100.1 L123.1,83.0 L124.0,83.0 L124.0,83.0 L124.9,83.0 L124.9,100.8 L125.8,100.8 L125.8,96.3 L126.7,96.3 L126.7,103.5 L127.6,103.5 L127.6,123.0 L128.5,123.0 L128.5,95.3 L129.4,95.3 L129.4,85.3 L130.3,85.3 L130.3,96.9 L131.2,96.9 L131.2,91.5 L132.1,91.5 L132.1,83.0 L133.0,83.0 L133.0,83.0 L133.9,83.0 L133.9,85.5 L134.8,85.5 L134.8,88.4 L135.7,88.4 L135.7,88.0 L136.6,88.0 L136.6,96.7 L137.5,96.7 L137.5,94.7 L138.4,94.7 L138.4,130.2 L139.3,130.2 L139.3,113.9 L140.2,113.9 L140.2,99.8 L141.1,99.8 L141.1,104.8 L142.0,104.8 L142.0,88.6 L142.9,88.6 L142.9,85.4 L143.8,85.4 L143.8,107.3 L144.7,107.3 L144.7,100.3 L145.6,100.3 L145.6,115.7 L146.5,115.7 L146.5,108.5 L147.4,108.5 L147.4,83.0 L148.3,83.0 L148.3,96.5 L149.2,96.5 L149.2,105.2 L150.1,105.2 L150.1,104.7 L151.0,104.7 L151.0,94.8 L151.9,94.8 L151.9,85.5 L152.8,85.5 L152.8,93.0 L153.7,93.0 L153.7,83.0 L154.6,83.0 L154.6,83.0 L155.5,83.0 L155.5,83.0 L156.4,83.0 L156.4,97.5 L157.3,97.5 L157.3,94.7 L158.2,94.7 L158.2,107.1 L159.1,107.1 L159.1,83.0 L160.0,83.0 L160.0,83.0 L160.9,83.0 L160.9,83.0 L161.8,83.0 L161.8,99.1 L162.7,99.1 L162.7,83.0 L163.6,83.0 L163.6,83.0 L164.5,83.0 L164.5,96.8 L165.4,96.8 L165.4,148.6 L164.5,148.6 L164.5,102.9 L163.6,102.9 L163.6,103.0 L162.7,103.0 L162.7,114.3 L161.8,114.3 L161.8,114.3 L160.9,114.3 L160.9,124.0 L160.0,124.0 L160.0,124.9 L159.1,124.9 L159.1,143.2 L158.2,143.2 L158.2,134.6 L157.3,134.6 L157.3,132.0 L156.4,132.0 L156.4,104.0 L155.5,104.0 L155.5,98.8 L154.6,98.8 L154.6,102.2 L153.7,102.2 L153.7,101.7 L152.8,101.7 L152.8,139.7 L151.9,139.7 L151.9,143.1 L151.0,143.1 L151.0,110.4 L150.1,110.4 L150.1,111.8 L149.2,111.8 L149.2,114.1 L148.3,114.1 L148.3,108.8 L147.4,108.8 L147.4,113.0 L146.5,113.0 L146.5,163.4 L145.6,163.4 L145.6,163.8 L144.7,163.8 L144.7,113.9 L143.8,113.9 L143.8,99.5 L142.9,99.5 L142.9,118.5 L142.0,118.5 L142.0,132.6 L141.1,132.6 L141.1,146.7 L140.2,146.7 L140.2,152.3 L139.3,152.3 L139.3,134.8 L138.4,134.8 L138.4,117.8 L137.5,117.8 L137.5,104.2 L136.6,104.2 L136.6,147.9 L135.7,147.9 L135.7,103.4 L134.8,103.4 L134.8,95.3 L133.9,95.3 L133.9,98.1 L133.0,98.1 L133.0,100.0 L132.1,100.0 L132.1,110.1 L131.2,110.1 L131.2,124.0 L130.3,124.0 L130.3,179.8 L129.4,179.8 L129.4,138.1 L128.5,138.1 L128.5,130.3 L127.6,130.3 L127.6,122.2 L126.7,122.2 L126.7,114.5 L125.8,114.5 L125.8,171.2 L124.9,171.2 L124.9,167.6 L124.0,167.6 L124.0,108.5 L123.1,108.5 L123.1,110.4 L122.2,110.4 L122.2,118.5 L121.3,118.5 L121.3,126.1 L120.4,126.1 L120.4,132.3 L119.5,132.3 L119.5,131.1 L118.6,131.1 L118.6,114.8 L117.7,114.8 L117.7,112.7 L116.8,112.7 L116.8,128.1 L115.9,128.1 L115.9,123.7 L115.0,123.7 L115.0,103.5 L114.1,103.5 L114.1,97.3 L113.2,97.3 L113.2,125.4 L112.3,125.4 L112.3,136.8 L111.4,136.8 L111.4,122.7 L110.5,122.7 L110.5,149.6 L109.6,149.6 L109.6,141.3 L108.7,141.3 L108.7,131.7 L107.8,131.7 L107.8,156.4 L106.9,156.4 L106.9,164.9 L106.0,164.9 L106.0,173.4 L105.1,173.4 L105.1,152.2 L104.2,152.2 L104.2,201.5 L103.3,201.5 L103.3,143.0 L102.4,143.0 L102.4,146.9 L101.5,146.9 L101.5,162.4 L100.6,162.4 L100.6,169.6 L99.7,169.6 L99.7,178.8 L98.8,178.8 L98.8,168.6 L97.9,168.6 L97.9,219.0 L97.0,219.0 L97.0,208.5 L96.1,208.5 L96.1,137.6 L95.2,137.6 L95.2,143.0 L94.3,143.0 L94.3,198.0 L93.4,198.0 L93.4,205.1 L92.5,205.1 L92.5,161.8 L91.6,161.8 L91.6,167.6 L90.7,167.6 L90.7,161.0 L89.8,161.0 L89.8,161.4 L88.9,161.4 L88.9,217.0 L88.0,217.0 L88.0,224.0 L87.1,224.0 L87.1,229.7 L86.2,229.7 L86.2,171.0 L85.3,171.0 L85.3,190.3 L84.4,190.3 L84.4,189.0 L83.5,189.0 L83.5,188.7 L82.6,188.7 L82.6,167.3 L81.7,167.3 L81.7,167.4 L80.8,167.4 L80.8,171.5 L79.9,171.5 L79.9,233.6 L79.0,233.6 L79.0,184.3 L78.1,184.3 L78.1,229.6 L77.2,229.6 L77.2,168.9 L76.3,168.9 L76.3,165.6 L75.4,165.6 L75.4,162.9 L74.5,162.9 L74.5,169.7 L73.6,169.7 L73.6,169.2 L72.7,169.2 L72.7,193.3 L71.8,193.3 L71.8,200.4 L70.9,200.4 L70.9,207.6 L70.0,207.6 L70.0,193.0 L69.1,193.0 L69.1,193.2 L68.2,193.2 L68.2,189.1 L67.3,189.1 L67.3,195.7 L66.4,195.7 L66.4,197.8 L65.5,197.8 L65.5,210.4 L64.6,210.4 L64.6,222.4 L63.7,222.4 L63.7,228.7 L62.8,228.7 L62.8,229.1 L61.9,229.1 L61.9,260.8 L61.0,260.8 L61.0,269.2 L60.1,269.2 L60.1,256.1 L59.2,256.1 L59.2,288.0 L58.3,288.0 L58.4,293.9 L57.4,293.9 L57.5,272.4 L56.5,272.4 L56.6,262.0 L55.6,262.0 L55.7,306.2 L54.8,306.2Z" fill="#0E9081" fill-opacity="0.13"/>
<path d="M55.2,262.0 C55.80,275.80 56.40,289.60 57.0,298.0 C57.67,295.67 58.33,294.00 59.0,288.0 C59.67,282.00 60.33,270.00 61.0,262.0 C61.67,254.00 62.33,245.13 63.0,240.0 C63.33,242.33 63.67,245.44 64.0,250.0 C64.67,259.11 65.33,282.20 66.0,292.0 C66.33,290.13 66.67,285.87 67.0,284.0 C68.00,291.70 69.00,309.30 70.0,317.0 C70.80,306.03 71.60,283.23 72.4,270.0 C73.07,258.97 73.73,248.53 74.4,242.0 C75.27,248.53 76.13,270.00 77.0,270.0 C78.00,270.00 79.00,263.00 80.0,263.0 C80.67,263.00 81.33,273.50 82.0,280.0 C82.67,286.50 83.33,296.87 84.0,302.0 C84.67,295.47 85.33,281.47 86.0,274.0 C87.00,262.80 88.00,257.90 89.0,253.0 C89.87,259.77 90.73,275.23 91.6,282.0 C92.73,276.17 93.87,262.83 95.0,257.0 C96.00,268.20 97.00,293.80 98.0,305.0 C99.00,295.90 100.00,266.00 101.0,266.0 C101.47,266.00 101.93,269.00 102.4,269.0 C102.93,269.00 103.47,262.22 104.0,260.0 C104.80,256.67 105.60,255.00 106.4,255.0 C107.33,255.00 108.27,274.17 109.2,280.0 C109.80,274.63 110.40,257.00 111.0,257.0 C111.67,257.00 112.33,258.57 113.0,260.0 C113.80,261.72 114.60,265.37 115.4,267.0 C116.07,263.50 116.73,255.50 117.4,252.0 C118.27,261.80 119.13,284.20 120.0,294.0 C120.47,287.00 120.93,271.00 121.4,264.0 C121.93,268.20 122.47,276.17 123.0,282.0 C124.00,292.93 125.00,305.77 126.0,313.0 C127.00,305.30 128.00,291.49 129.0,280.0 C129.87,270.04 130.73,256.23 131.6,249.0 C132.40,255.30 133.20,266.19 134.0,276.0 C134.47,281.72 134.93,289.80 135.4,294.0 C135.93,293.07 136.47,290.93 137.0,290.0 C137.80,293.50 138.60,301.50 139.4,305.0 C140.27,296.83 141.13,274.33 142.0,270.0 C142.53,267.33 143.07,268.67 143.6,266.0 C144.40,262.00 145.20,247.60 146.0,242.0 C146.80,246.20 147.60,260.00 148.4,260.0 C148.93,260.00 149.47,259.00 150.0,257.0 C150.67,254.50 151.33,239.37 152.0,234.0 C152.33,236.33 152.67,239.06 153.0,244.0 C153.53,251.90 154.07,271.60 154.6,280.0 C155.07,276.73 155.53,272.97 156.0,266.0 C156.67,256.04 157.33,222.00 158.0,222.0 C158.67,222.00 159.33,225.00 160.0,225.0 C160.67,225.00 161.33,220.00 162.0,220.0 C163.00,220.00 164.00,222.00 165.0,223.0 C166.00,224.00 167.00,226.00 168.0,226.0 C168.67,226.00 169.33,205.67 170.0,198.0 C170.67,190.33 171.33,184.66 172.0,180.0 C172.80,174.41 173.60,171.57 174.4,169.0 C175.60,173.20 176.80,182.80 178.0,187.0 C179.00,183.73 180.00,173.00 181.0,173.0 C181.87,173.00 182.73,173.00 183.6,173.0 C184.73,173.00 185.87,181.00 187.0,181.0 C187.53,181.00 188.07,168.00 188.6,168.0 C189.07,168.00 189.53,169.00 190.0,169.0 C190.80,169.00 191.60,163.00 192.4,163.0 C192.93,163.00 193.47,163.33 194.0,164.0 C194.53,164.67 195.07,170.90 195.6,173.0 C196.27,169.03 196.93,159.97 197.6,156.0 C198.73,160.67 199.87,171.33 201.0,176.0 C201.67,174.37 202.33,170.63 203.0,169.0 C204.00,171.10 205.00,175.90 206.0,178.0 C206.67,175.67 207.33,170.70 208.0,168.0 C208.80,164.76 209.60,162.63 210.4,161.0 C211.27,163.57 212.13,169.43 213.0,172.0 C214.00,168.50 215.00,160.50 216.0,157.0 C216.53,158.17 217.07,160.83 217.6,162.0 C218.73,159.43 219.87,152.13 221.0,151.0 C221.67,150.33 222.33,150.42 223.0,150.0 C223.47,149.71 223.93,149.00 224.4,149.0 C224.93,149.00 225.47,151.00 226.0,151.0 C226.80,151.00 227.60,146.00 228.4,146.0 C228.93,146.00 229.47,152.25 230.0,156.0 C230.67,160.69 231.33,168.27 232.0,172.0 C232.80,168.27 233.60,157.00 234.4,156.0 C234.93,155.33 235.47,155.56 236.0,155.0 C236.80,154.17 237.60,151.00 238.4,151.0 C239.27,151.00 240.13,152.00 241.0,152.0 C242.00,152.00 243.00,152.00 244.0,152.0 C244.80,152.00 245.60,150.00 246.4,150.0 C247.07,150.00 247.73,154.00 248.4,154.0 C248.93,154.00 249.47,153.00 250.0,153.0 C250.80,153.00 251.60,160.67 252.4,163.0 C252.93,161.37 253.47,157.63 254.0,156.0 C254.53,160.67 255.07,162.67 255.6,176.0 C255.93,184.33 256.27,239.63 256.6,259.0 C257.40,241.97 258.20,202.00 259.0,186.0 C259.87,168.67 260.73,161.24 261.6,160.0 C262.07,159.33 262.53,159.00 263.0,159.0 C264.33,159.00 265.67,177.40 267.0,183.0 C267.67,178.33 268.33,167.00 269.0,163.0 C269.67,159.00 270.33,158.40 271.0,157.0 C271.33,158.17 271.67,160.83 272.0,162.0 C273.13,158.27 274.27,146.00 275.4,146.0 C276.27,146.00 277.13,148.48 278.0,152.0 C279.33,157.41 280.67,172.70 282.0,179.0 C283.00,174.80 284.00,161.50 285.0,161.0 C286.33,160.33 287.67,160.67 289.0,160.0 C289.87,159.57 290.73,148.00 291.6,148.0 C292.40,148.00 293.20,152.00 294.0,152.0 C294.67,152.00 295.33,151.00 296.0,151.0 C296.67,151.00 297.33,151.00 298.0,151.0 C298.67,151.00 299.33,150.00 300.0,150.0 C301.00,150.00 302.00,157.67 303.0,160.0 C304.00,157.43 305.00,150.54 306.0,149.0 C306.87,147.67 307.73,147.00 308.6,147.0 C309.40,147.00 310.20,152.82 311.0,156.0 C311.87,159.45 312.73,164.43 313.6,167.0 C314.40,161.63 315.20,154.27 316.0,144.0 C316.60,136.30 317.20,122.92 317.8,116.5 C318.40,120.58 319.00,125.66 319.6,134.0 C320.07,140.48 320.53,154.73 321.0,158.0 C321.67,162.67 322.33,160.33 323.0,165.0 C323.47,168.27 323.93,188.00 324.4,195.0 C325.13,186.83 325.87,165.24 326.6,160.0 C327.07,156.67 327.53,156.85 328.0,155.0 C329.20,150.23 330.40,141.20 331.6,137.0 C332.53,139.80 333.47,146.20 334.4,149.0 C335.53,143.98 336.67,132.52 337.8,127.5 C338.53,131.35 339.27,138.69 340.0,144.0 C340.87,150.27 341.73,157.80 342.6,162.0 C343.57,155.23 344.53,139.77 345.5,133.0 C346.13,137.90 346.77,148.01 347.4,154.0 C347.93,159.05 348.47,163.25 349.0,167.0 C350.00,174.04 351.00,178.50 352.0,182.0 C352.67,175.00 353.33,152.00 354.0,152.0 C354.67,152.00 355.33,153.00 356.0,153.0 C356.67,153.00 357.33,145.33 358.0,143.0 C358.53,144.40 359.07,149.00 359.6,149.0 C360.40,149.00 361.20,148.00 362.0,148.0 C363.00,148.00 364.00,153.00 365.0,154.0 C365.67,154.67 366.33,155.00 367.0,155.0 C367.67,155.00 368.33,148.87 369.0,147.0 C369.67,148.63 370.33,150.83 371.0,154.0 C371.67,157.17 372.33,166.00 373.0,166.0 C373.87,166.00 374.73,161.00 375.6,161.0 C376.40,161.00 377.20,164.39 378.0,166.0 C378.87,167.74 379.73,171.00 380.6,171.0 C381.40,171.00 382.20,164.14 383.0,154.0 C383.33,149.78 383.67,139.00 384.0,139.0 C384.53,139.00 385.07,143.00 385.6,143.0 C386.20,143.00 386.80,140.00 387.4,140.0 C388.27,140.00 389.13,149.97 390.0,153.0 C391.13,148.92 392.27,139.58 393.4,135.5 C394.13,138.18 394.87,144.32 395.6,147.0 C396.87,139.77 398.13,123.23 399.4,116.0 C400.27,122.53 401.13,131.86 402.0,144.0 C402.67,153.34 403.33,169.30 404.0,177.0 C404.67,170.00 405.33,155.48 406.0,147.0 C406.50,140.64 407.00,134.35 407.5,130.5 C408.20,134.35 408.90,143.15 409.6,147.0 C410.07,146.07 410.53,143.00 411.0,143.0 C412.00,143.00 413.00,150.00 414.0,150.0 C414.53,150.00 415.07,143.10 415.6,141.0 C416.33,145.90 417.07,157.10 417.8,162.0 C418.53,154.53 419.27,137.61 420.0,130.0 C420.80,121.70 421.60,119.27 422.4,116.0 C423.07,118.33 423.73,121.55 424.4,126.0 C425.27,131.78 426.13,143.63 427.0,149.0 C427.47,147.25 427.93,143.25 428.4,141.5 C429.27,144.88 430.13,151.25 431.0,156.0 C431.87,160.75 432.73,166.73 433.6,170.0 C434.27,163.23 434.93,150.58 435.6,141.0 C436.07,134.29 436.53,125.67 437.0,121.0 C437.67,127.53 438.33,141.38 439.0,149.0 C439.53,155.10 440.07,160.50 440.6,164.0 C441.40,160.50 442.20,155.33 443.0,149.0 C444.00,141.08 445.00,126.00 446.0,119.0 C446.47,119.93 446.93,120.38 447.4,123.0 C447.93,125.99 448.47,133.73 449.0,137.0 C449.80,134.43 450.60,128.57 451.4,126.0 C451.93,129.50 452.47,135.60 453.0,141.0 C453.87,149.78 454.73,163.62 455.6,170.5 C456.40,162.68 457.20,146.94 458.0,137.0 C458.87,126.23 459.73,115.53 460.6,109.0 C461.40,111.57 462.20,116.17 463.0,120.0 C463.87,124.15 464.73,128.67 465.6,133.0 C466.40,137.00 467.20,145.00 468.0,145.0 C468.67,145.00 469.33,143.67 470.0,141.0 C470.80,137.80 471.60,128.95 472.4,124.0 C473.47,117.40 474.53,111.73 475.6,108.0 C476.40,111.50 477.20,117.45 478.0,123.0 C478.67,127.62 479.33,132.60 480.0,138.0 C481.00,146.10 482.00,158.70 483.0,165.0 C483.67,158.93 484.33,146.33 485.0,139.0 C485.67,131.67 486.33,125.20 487.0,121.0 C487.53,124.73 488.07,133.27 488.6,137.0 C489.27,133.50 489.93,125.50 490.6,122.0 C491.20,124.80 491.80,134.00 492.4,134.0 C493.27,134.00 494.13,133.00 495.0,133.0 C495.67,133.00 496.33,134.94 497.0,138.0 C497.53,140.44 498.07,145.67 498.6,148.0 C499.07,146.83 499.53,144.17 500.0,143.0 C500.53,145.57 501.07,151.43 501.6,154.0 C502.53,146.30 503.47,128.70 504.4,121.0 C505.27,127.53 506.13,142.47 507.0,149.0 C507.67,147.37 508.33,145.28 509.0,142.0 C510.13,136.42 511.27,122.83 512.4,117.0 C512.80,118.40 513.20,121.60 513.6,123.0 C514.07,121.83 514.53,119.17 515.0,118.0 C515.67,123.37 516.33,134.50 517.0,141.0 C517.67,147.50 518.33,153.27 519.0,157.0 C519.67,155.60 520.33,155.00 521.0,151.0 C521.87,145.80 522.73,116.50 523.6,106.0 C524.07,111.83 524.53,122.30 525.0,131.0 C525.67,143.42 526.33,161.28 527.0,170.5 C527.67,164.55 528.33,153.92 529.0,145.0 C530.00,131.62 531.00,112.03 532.0,102.0 C532.53,103.17 533.07,103.67 533.6,107.0 C534.40,112.00 535.20,146.10 536.0,158.0 C536.67,152.17 537.33,141.96 538.0,133.0 C538.80,122.24 539.60,106.17 540.4,98.0 C541.07,103.37 541.73,114.00 542.4,121.0 C543.07,128.00 543.73,135.57 544.4,140.0 C545.07,136.03 545.73,129.52 546.4,123.0" fill="none" stroke="#3C7BD8" stroke-width="1.5" stroke-linejoin="round" stroke-linecap="round"/>
<circle cx="546.5" cy="123.1" r="2.5" fill="#3C7BD8"/>
<path d="M55.2,248.5 C55.63,252.38 56.07,256.25 56.5,262.0 C56.93,267.75 57.37,278.10 57.8,283.0 C58.27,278.10 58.73,269.17 59.2,262.0 C59.67,254.83 60.13,245.83 60.6,240.0 C61.07,234.17 61.53,229.33 62.0,227.0 C62.67,223.67 63.33,225.33 64.0,222.0 C64.67,218.67 65.33,202.17 66.0,196.0 C66.53,191.07 67.07,186.00 67.6,186.0 C68.40,186.00 69.20,192.00 70.0,192.0 C70.67,192.00 71.33,181.24 72.0,176.0 C72.87,169.18 73.73,160.67 74.6,156.0 C75.73,160.20 76.87,167.38 78.0,174.0 C78.33,175.95 78.67,178.60 79.0,180.0 C80.00,175.10 81.00,163.90 82.0,159.0 C82.47,160.63 82.93,166.00 83.4,166.0 C83.73,166.00 84.07,164.00 84.4,164.0 C85.20,164.00 86.00,171.67 86.8,174.0 C87.67,169.33 88.53,158.67 89.4,154.0 C90.13,156.33 90.87,161.67 91.6,164.0 C92.93,156.65 94.27,139.85 95.6,132.5 C96.87,142.88 98.13,166.62 99.4,177.0 C100.47,167.67 101.53,146.33 102.6,137.0 C103.53,141.20 104.47,150.80 105.4,155.0 C106.60,147.07 107.80,128.93 109.0,121.0 C109.33,123.80 109.67,130.20 110.0,133.0 C111.13,122.87 112.27,99.73 113.4,89.6 C114.27,94.59 115.13,109.84 116.0,111.0 C117.00,112.33 118.00,111.67 119.0,113.0 C119.47,113.62 119.93,125.73 120.4,129.6 C121.40,123.07 122.40,101.60 123.4,101.6 C123.93,101.60 124.47,102.07 125.0,103.0 C126.33,105.33 127.67,127.53 129.0,135.0 C130.20,125.67 131.40,96.00 132.6,95.0 C133.40,94.33 134.20,94.00 135.0,94.0 C135.80,94.00 136.60,96.67 137.4,102.0 C138.13,106.89 138.87,136.50 139.6,147.0 C140.73,134.54 141.87,106.06 143.0,93.6 C143.87,100.60 144.73,116.60 145.6,123.6 C146.40,118.00 147.20,105.20 148.0,99.6 C148.67,102.49 149.33,109.11 150.0,112.0 C150.67,108.97 151.33,99.62 152.0,99.0 C153.00,98.07 154.00,97.60 155.0,97.6 C155.87,97.60 156.73,98.40 157.6,100.0 C158.40,101.48 159.20,117.63 160.0,123.0 C161.00,117.40 162.00,99.83 163.0,99.0 C163.80,98.33 164.60,98.17 165.4,98.0" fill="none" stroke="#0E9081" stroke-width="1.65" stroke-linejoin="round" stroke-linecap="round"/>
<circle cx="165.5" cy="98.1" r="2.5" fill="#0E9081"/>
<path d="M55.2,306.0 C55.47,309.45 55.73,312.90 56.0,315.0 C56.60,310.57 57.20,306.03 57.8,296.0 C58.33,287.09 58.87,268.78 59.4,260.5 C60.00,267.38 60.60,280.58 61.2,290.0 C61.80,299.42 62.40,310.70 63.0,317.0 C63.80,307.67 64.60,286.33 65.4,277.0 C66.07,280.03 66.73,281.33 67.4,290.0 C67.93,296.93 68.47,310.76 69.0,320.0 C70.00,337.33 71.00,353.73 72.0,364.0 C73.00,346.73 74.00,314.88 75.0,290.0 C75.53,276.73 76.07,259.33 76.6,250.0 C77.07,254.20 77.53,264.50 78.0,268.0 C78.80,274.00 79.60,274.90 80.4,277.0 C80.93,278.40 81.47,278.00 82.0,280.0 C82.33,281.25 82.67,293.80 83.0,300.0 C83.87,316.13 84.73,329.90 85.6,339.0 C86.40,329.90 87.20,315.12 88.0,300.0 C88.33,293.70 88.67,285.54 89.0,280.0 C89.53,271.13 90.07,262.00 90.6,262.0 C91.40,262.00 92.20,262.00 93.0,262.0 C93.67,262.00 94.33,257.10 95.0,250.0 C95.53,244.32 96.07,232.37 96.6,227.0 C97.07,230.03 97.53,236.97 98.0,240.0 C98.67,233.47 99.33,217.52 100.0,212.0 C100.47,208.13 100.93,207.40 101.4,206.0 C101.93,208.33 102.47,213.67 103.0,216.0 C103.67,213.20 104.33,206.78 105.0,204.0 C105.80,200.67 106.60,199.00 107.4,199.0 C108.27,199.00 109.13,204.33 110.0,207.0 C110.87,209.67 111.73,213.13 112.6,215.0 C113.40,213.13 114.20,209.31 115.0,207.0 C116.00,204.11 117.00,201.67 118.0,200.0 C119.00,198.33 120.00,198.90 121.0,197.0 C121.67,195.73 122.33,192.00 123.0,192.0 C123.33,192.00 123.67,194.00 124.0,194.0 C124.67,194.00 125.33,187.10 126.0,185.0 C126.33,187.57 126.67,192.94 127.0,196.0 C127.67,202.11 128.33,207.00 129.0,207.0 C129.67,207.00 130.33,202.00 131.0,202.0 C131.53,202.00 132.07,203.00 132.6,203.0 C133.73,203.00 134.87,196.00 136.0,196.0 C136.67,196.00 137.33,202.31 138.0,205.0 C139.00,209.03 140.00,212.67 141.0,215.0 C142.00,210.57 143.00,200.43 144.0,196.0 C144.67,197.40 145.33,199.67 146.0,202.0 C146.67,204.33 147.33,210.00 148.0,210.0 C149.00,210.00 150.00,207.91 151.0,207.0 C151.80,206.27 152.60,205.00 153.4,205.0 C153.93,205.00 154.47,207.00 155.0,207.0 C155.53,207.00 156.07,204.00 156.6,204.0 C157.07,204.00 157.53,207.07 158.0,208.0 C158.53,206.83 159.07,204.17 159.6,203.0 C160.40,207.67 161.20,218.33 162.0,223.0 C162.67,220.90 163.33,216.10 164.0,214.0 C164.67,217.03 165.33,218.33 166.0,227.0 C166.47,233.07 166.93,256.90 167.4,266.0 C167.80,256.67 168.20,226.00 168.6,226.0 C169.07,226.00 169.53,226.67 170.0,228.0 C170.67,229.90 171.33,248.00 172.0,248.0 C172.67,248.00 173.33,243.00 174.0,243.0 C174.47,243.00 174.93,244.00 175.4,244.0 C176.07,244.00 176.73,242.40 177.4,242.4 C178.40,242.40 179.40,252.06 180.4,255.0 C181.60,249.17 182.80,240.33 184.0,230.0 C185.00,221.39 186.00,213.26 187.0,200.0 C187.53,192.93 188.07,181.60 188.6,176.0 C189.40,186.27 190.20,217.71 191.0,220.0 C191.47,221.33 191.93,222.00 192.4,222.0 C192.93,222.00 193.47,219.07 194.0,216.0 C194.80,211.40 195.60,199.90 196.4,195.0 C197.47,200.60 198.53,213.40 199.6,219.0 C200.40,216.43 201.20,211.19 202.0,208.0 C202.67,205.34 203.33,202.63 204.0,201.0 C204.67,205.43 205.33,215.10 206.0,220.0 C206.53,223.92 207.07,226.90 207.6,229.0 C208.40,223.63 209.20,211.17 210.0,206.0 C210.53,202.56 211.07,200.63 211.6,199.0 C212.07,200.87 212.53,207.00 213.0,207.0 C213.67,207.00 214.33,205.83 215.0,204.0 C215.67,202.17 216.33,196.00 217.0,196.0 C217.67,196.00 218.33,199.61 219.0,200.0 C220.13,200.67 221.27,201.00 222.4,201.0 C223.13,201.00 223.87,189.50 224.6,186.0 C225.73,194.87 226.87,221.73 228.0,224.0 C228.33,224.67 228.67,225.00 229.0,225.0 C229.67,225.00 230.33,191.27 231.0,181.0 C231.87,185.90 232.73,197.10 233.6,202.0 C234.27,197.80 234.93,188.20 235.6,184.0 C236.73,197.07 237.87,226.93 239.0,240.0 C239.67,236.73 240.33,226.67 241.0,226.0 C241.67,225.33 242.33,225.67 243.0,225.0 C243.67,224.33 244.33,212.00 245.0,212.0 C245.47,212.00 245.93,215.00 246.4,215.0 C246.93,215.00 247.47,207.33 248.0,205.0 C248.87,209.90 249.73,221.10 250.6,226.0 C251.20,224.60 251.80,221.40 252.4,220.0 C253.27,226.77 254.13,244.05 255.0,249.0 C255.47,251.67 255.93,252.07 256.4,253.0 C257.27,246.47 258.13,231.89 259.0,225.0 C259.47,221.29 259.93,218.10 260.4,216.0 C260.80,216.93 261.20,219.07 261.6,220.0 C262.27,215.80 262.93,205.33 263.6,202.0 C264.40,198.00 265.20,198.00 266.0,196.0 C266.67,194.33 267.33,191.00 268.0,191.0 C268.67,191.00 269.33,192.00 270.0,192.0 C270.67,192.00 271.33,190.00 272.0,190.0 C272.67,190.00 273.33,218.37 274.0,227.0 C275.00,217.67 276.00,188.00 277.0,187.0 C277.67,186.33 278.33,186.00 279.0,186.0 C280.20,186.00 281.40,203.63 282.6,209.0 C283.20,201.77 283.80,181.82 284.4,178.0 C285.13,173.33 285.87,172.63 286.6,171.0 C287.40,178.23 288.20,194.77 289.0,202.0 C290.00,197.80 291.00,184.00 292.0,184.0 C292.67,184.00 293.33,187.00 294.0,187.0 C295.00,187.00 296.00,175.37 297.0,175.0 C297.90,174.67 298.80,174.50 299.7,174.5 C300.33,174.50 300.97,179.00 301.6,179.0 C301.97,179.00 302.33,176.70 302.7,176.7 C303.27,176.70 303.83,178.40 304.4,178.4 C305.13,178.40 305.87,175.30 306.6,175.3 C307.53,175.30 308.47,200.37 309.4,208.0 C310.43,200.93 311.47,184.77 312.5,177.7 C313.13,179.24 313.77,182.76 314.4,184.3 C315.10,182.60 315.80,179.62 316.5,177.0 C317.20,174.38 317.90,170.56 318.6,168.6 C319.40,172.66 320.20,185.20 321.0,186.0 C321.67,186.67 322.33,187.00 323.0,187.0 C323.67,187.00 324.33,179.00 325.0,179.0 C325.67,179.00 326.33,184.00 327.0,184.0 C328.00,184.00 329.00,183.67 330.0,183.0 C331.20,182.20 332.40,177.00 333.6,177.0 C334.73,177.00 335.87,185.00 337.0,185.0 C337.67,185.00 338.33,183.43 339.0,182.0 C339.80,180.28 340.60,176.63 341.4,175.0 C342.13,176.40 342.87,179.60 343.6,181.0 C344.60,178.67 345.60,171.00 346.6,171.0 C347.40,171.00 348.20,172.15 349.0,174.0 C349.87,176.00 350.73,180.81 351.6,183.0 C352.40,185.02 353.20,187.00 354.0,187.0 C355.00,187.00 356.00,179.00 357.0,179.0 C358.00,179.00 359.00,179.33 360.0,180.0 C360.67,180.44 361.33,185.00 362.0,185.0 C362.80,185.00 363.60,182.00 364.4,182.0 C365.13,182.00 365.87,183.00 366.6,183.0 C367.40,183.00 368.20,176.87 369.0,175.0 C370.00,178.03 371.00,184.97 372.0,188.0 C372.80,186.13 373.60,180.00 374.4,180.0 C374.93,180.00 375.47,182.00 376.0,182.0 C376.67,182.00 377.33,181.00 378.0,181.0 C379.13,181.00 380.27,193.27 381.4,197.0 C382.60,194.20 383.80,185.00 385.0,185.0 C386.00,185.00 387.00,191.00 388.0,191.0 C389.00,191.00 390.00,186.83 391.0,185.0 C392.00,183.17 393.00,182.47 394.0,180.0 C394.67,178.36 395.33,175.40 396.0,174.0 C396.67,175.87 397.33,181.49 398.0,182.0 C398.87,182.67 399.73,182.33 400.6,183.0 C401.87,183.97 403.13,192.97 404.4,196.0 C404.93,193.90 405.47,189.10 406.0,187.0 C406.67,190.03 407.33,195.24 408.0,200.0 C408.80,205.72 409.60,214.57 410.4,219.0 C411.27,211.77 412.13,195.19 413.0,188.0 C413.67,182.47 414.33,179.57 415.0,177.0 C415.87,179.33 416.73,184.67 417.6,187.0 C418.60,183.97 419.60,177.03 420.6,174.0 C421.27,176.57 421.93,185.00 422.6,185.0 C422.93,185.00 423.27,185.00 423.6,185.0 C424.07,185.00 424.53,183.00 425.0,183.0 C425.67,183.00 426.33,190.67 427.0,193.0 C427.87,190.43 428.73,184.57 429.6,182.0 C430.20,183.17 430.80,185.83 431.4,187.0 C432.27,185.37 433.13,180.00 434.0,180.0 C434.67,180.00 435.33,181.50 436.0,182.0 C436.67,182.50 437.33,183.00 438.0,183.0 C439.00,183.00 440.00,175.33 441.0,173.0 C441.67,175.33 442.33,180.00 443.0,183.0 C443.67,186.00 444.33,189.13 445.0,191.0 C446.00,188.43 447.00,180.00 448.0,180.0 C448.67,180.00 449.33,180.00 450.0,180.0 C450.67,180.00 451.33,174.00 452.0,174.0 C453.00,174.00 454.00,179.00 455.0,179.0 C456.00,179.00 457.00,179.00 458.0,179.0 C458.87,179.00 459.73,172.87 460.6,171.0 C461.27,173.57 461.93,182.00 462.6,182.0 C463.40,182.00 464.20,181.00 465.0,181.0 C465.67,181.00 466.33,182.50 467.0,184.0 C467.67,185.50 468.33,188.60 469.0,190.0 C469.80,187.20 470.60,180.80 471.4,178.0 C472.27,180.10 473.13,184.90 474.0,187.0 C474.80,185.60 475.60,183.22 476.4,181.0 C477.07,179.15 477.73,176.80 478.4,175.0 C479.27,172.66 480.13,169.00 481.0,169.0 C481.67,169.00 482.33,175.90 483.0,178.0 C483.80,175.43 484.60,169.57 485.4,167.0 C486.13,170.03 486.87,173.57 487.6,180.0 C488.20,185.26 488.80,195.33 489.4,200.0 C490.07,193.47 490.73,178.53 491.4,172.0 C492.27,174.10 493.13,181.00 494.0,181.0 C495.00,181.00 496.00,180.00 497.0,178.0 C497.87,176.27 498.73,170.33 499.6,168.0 C500.27,169.40 500.93,173.33 501.6,174.0 C502.27,174.67 502.93,174.33 503.6,175.0 C504.40,175.80 505.20,181.13 506.0,183.0 C506.87,178.80 507.73,169.20 508.6,165.0 C509.40,167.57 510.20,172.33 511.0,176.0 C511.80,179.67 512.60,184.43 513.4,187.0 C514.27,184.67 515.13,177.00 516.0,177.0 C517.00,177.00 518.00,180.00 519.0,180.0 C520.20,180.00 521.40,172.33 522.6,170.0 C523.73,172.68 524.87,178.82 526.0,181.5 C527.00,179.52 528.00,175.19 529.0,173.0 C529.80,171.25 530.60,169.00 531.4,169.0 C532.43,169.00 533.47,173.00 534.5,173.0 C535.20,173.00 535.90,170.53 536.6,169.0 C537.40,167.25 538.20,164.40 539.0,163.0 C540.00,169.30 541.00,183.70 542.0,190.0 C543.00,185.57 544.00,171.56 545.0,171.0 C546.20,170.33 547.40,170.00 548.6,170.0 C549.40,170.00 550.20,176.00 551.0,176.0 C551.67,176.00 552.33,176.00 553.0,176.0 C553.67,176.00 554.33,182.13 555.0,184.0 C556.00,180.50 557.00,169.00 558.0,169.0 C558.87,169.00 559.73,170.67 560.6,174.0 C561.53,177.59 562.47,196.23 563.4,203.0 C564.13,196.23 564.87,178.19 565.6,174.0 C566.07,171.33 566.53,170.93 567.0,170.0 C567.53,172.80 568.07,177.31 568.6,182.0 C569.87,193.13 571.13,216.50 572.4,227.0 C573.27,212.77 574.13,177.27 575.0,166.0 C575.67,157.33 576.33,156.03 577.0,153.0 C577.67,158.13 578.33,170.83 579.0,175.0 C579.53,178.33 580.07,180.00 580.6,180.0 C581.07,180.00 581.53,179.00 582.0,179.0 C583.00,179.00 584.00,221.93 585.0,235.0 C585.67,219.83 586.33,187.27 587.0,170.0 C587.53,156.19 588.07,144.70 588.6,137.0 C589.07,141.43 589.53,148.50 590.0,156.0 C590.47,163.50 590.93,175.93 591.4,182.0 C592.27,178.73 593.13,172.33 594.0,168.0 C594.87,163.67 595.73,162.88 596.6,156.0 C597.27,150.71 597.93,139.90 598.6,135.0 C599.07,139.43 599.53,148.83 600.0,154.0 C600.67,161.38 601.33,165.67 602.0,169.0 C602.80,173.00 603.60,175.00 604.4,175.0 C605.27,175.00 606.13,171.70 607.0,170.0 C607.67,168.69 608.33,166.00 609.0,166.0 C609.67,166.00 610.33,170.60 611.0,172.0 C611.87,169.90 612.73,165.10 613.6,163.0 C614.53,165.57 615.47,171.43 616.4,174.0 C617.13,170.73 617.87,162.10 618.6,160.0 C619.07,158.67 619.53,158.33 620.0,158.0" fill="none" stroke="#A35A42" stroke-width="1.5" stroke-linejoin="round" stroke-linecap="round"/>
<circle cx="620.1" cy="158.1" r="2.5" fill="#A35A42"/>
<circle cx="546.5" cy="99" r="2.3" fill="#3C7BD8" fill-opacity="0.08" stroke="#3C7BD8" stroke-opacity="0.12" stroke-width="0.8"/>
<circle cx="620.1" cy="154" r="2.3" fill="#A35A42" fill-opacity="0.08" stroke="#A35A42" stroke-opacity="0.12" stroke-width="0.8"/>
<rect x="99.9" y="47.2" width="13.7" height="2.9" rx="1.45" fill="#3C7BD8"/>
<rect x="349.5" y="47.2" width="13.7" height="2.9" rx="1.45" fill="#0E9081"/>
<rect x="224.7" y="65.2" width="13.7" height="2.9" rx="1.45" fill="#A35A42"/>
</svg>
<div class="t title" id="title" style="left:302.7px;top:20.9px;">score</div>
<div class="t lg" id="lg1" style="left:120.6px;top:44.2px;color:#3C7BD8;">GAILPPOAgent/210803_162520</div>
<div class="t lg" id="lg2" style="left:370.6px;top:44.2px;color:#0E9081;">PPOAgent/210708_115840</div>
<div class="t lg" id="lg3" style="left:245.8px;top:62.2px;color:#A35A42;">SACAgent/210621_172512</div>
<div class="t ax yl" id="y200" style="top:121px;">200</div>
<div class="t ax yl" id="y0" style="top:204.5px;">0</div>
<div class="t ax yl" id="ym200" style="top:288px;">-200</div>
<div class="t ax yl" id="ym400" style="top:371.5px;">-400</div>
<div class="t ax xl" style="left:25.2px;top:435.7px;">0</div>
<div class="t ax xl" style="left:114.8px;top:435.7px;">100</div>
<div class="t ax xl" style="left:204.5px;top:435.7px;">200</div>
<div class="t ax xl" style="left:294.1px;top:435.7px;">300</div>
<div class="t ax xl" style="left:383.8px;top:435.7px;">400</div>
<div class="t ax xl" style="left:473.4px;top:435.7px;">500</div>
<div class="t ax xl" style="left:563.1px;top:435.7px;">600</div>
<div class="t ax" id="step" style="left:587.4px;top:405.6px;letter-spacing:0.3px;">Step</div>
</body></html>
